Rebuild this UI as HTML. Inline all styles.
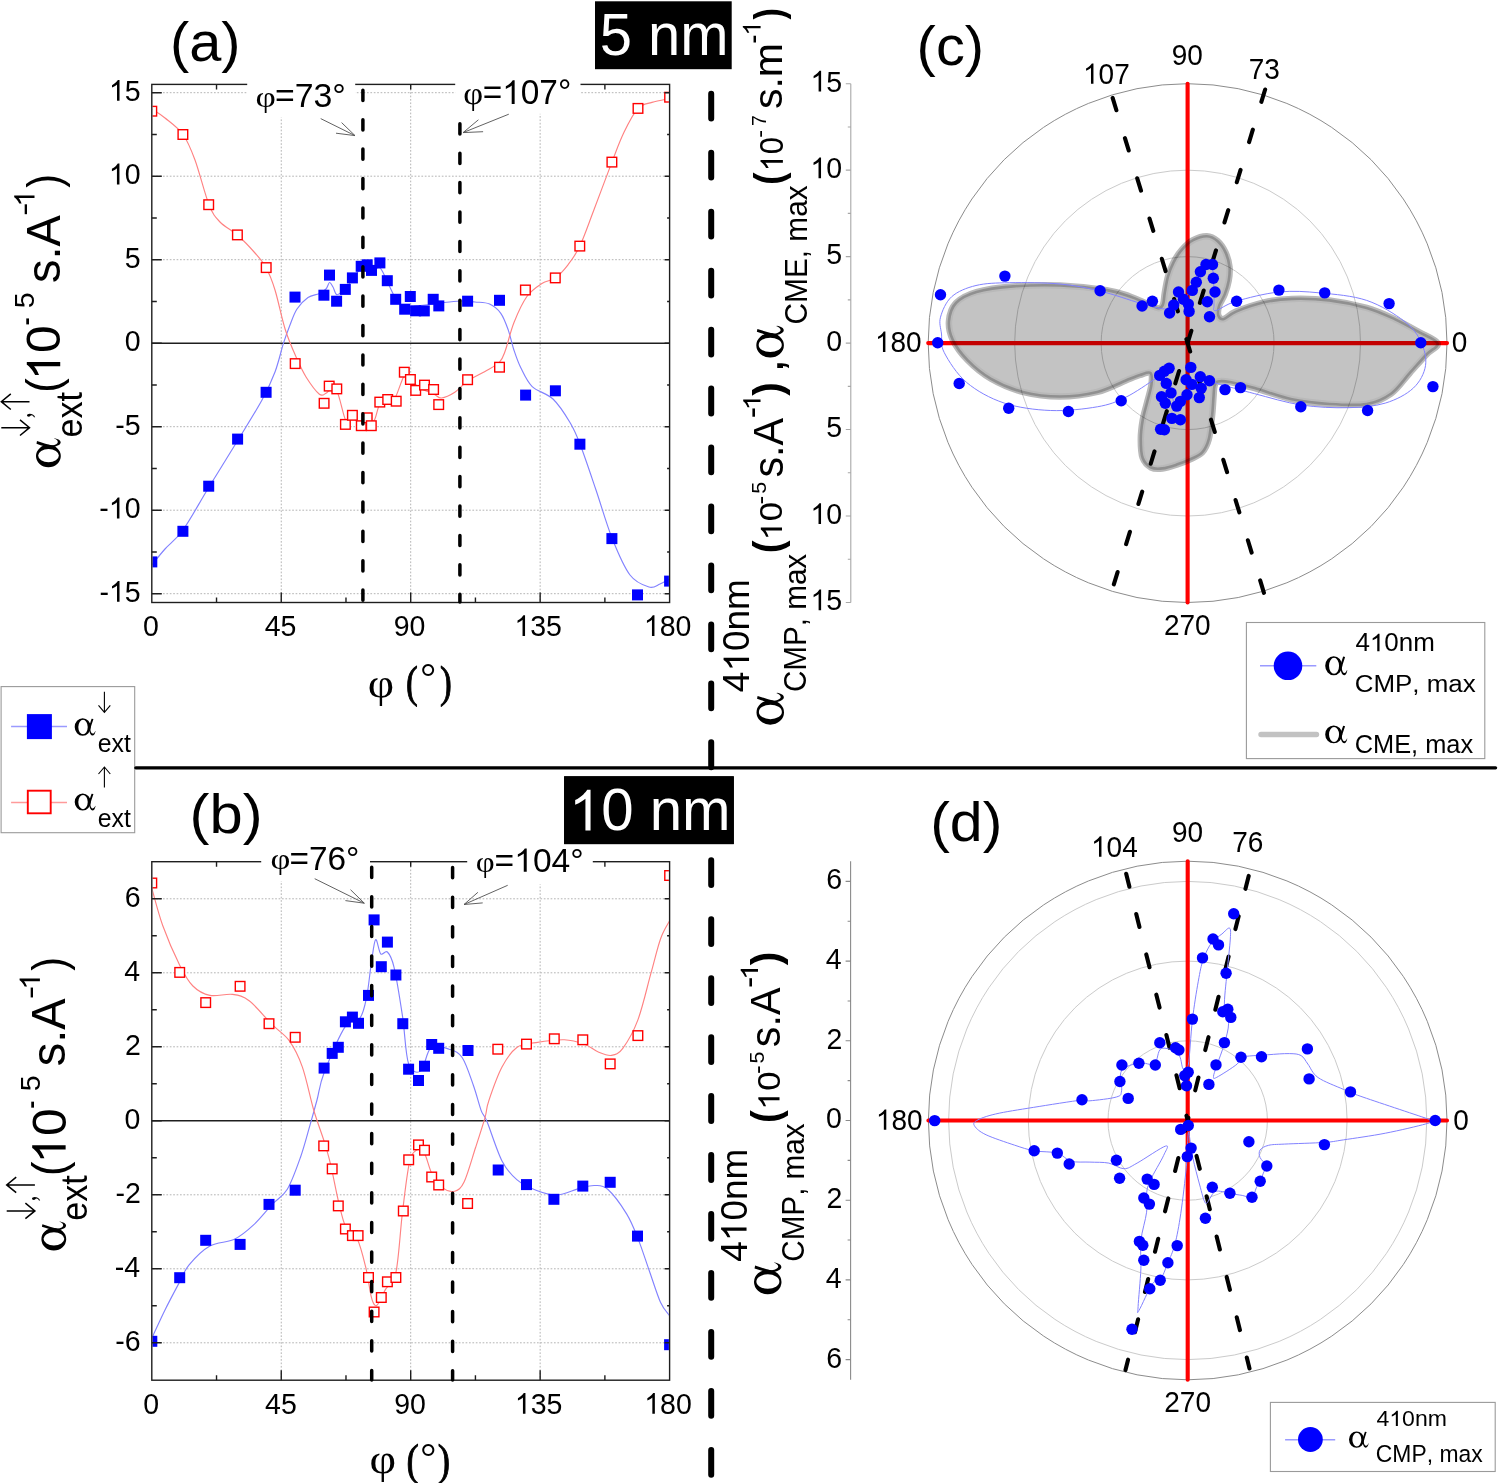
<!DOCTYPE html>
<html><head><meta charset="utf-8"><title>figure</title><style>html,body{margin:0;padding:0;background:#fff;width:1500px;height:1483px;overflow:hidden}svg{display:block}text{font-kerning:none;font-variant-ligatures:none}</style></head><body>
<svg width="1500" height="1483" viewBox="0 0 1500 1483">
<rect width="1500" height="1483" fill="#fff"/>
<clipPath id="clipA"><rect x="152.5" y="85.1" width="516.4" height="516.7"/></clipPath>
<path d="M152.8,92.7H668.6 M152.8,176.2H668.6 M152.8,259.7H668.6 M152.8,426.7H668.6 M152.8,510.2H668.6 M152.8,593.7H668.6 M281.25,85.4V601.5 M410.7,85.4V601.5 M540.15,85.4V601.5" stroke="#b4b4b4" stroke-width="1" stroke-dasharray="1.7 1.7" fill="none"/>
<path d="M151.8,343.2H669.6" stroke="#1e1e1e" stroke-width="1.4" fill="none"/>
<g clip-path="url(#clipA)">
<path d="M151.8,565 C154,562.33 159.8,554.83 165,549 C170.2,543.17 175.67,540.33 183,530 C190.33,519.67 199.83,502 209,487 C218.17,472 229.17,454.5 238,440 C246.83,425.5 255.83,411.33 262,400 C268.17,388.67 271.42,381.47 275,372 C278.58,362.53 281,351.03 283.5,343.2 C286,335.37 287.75,330.7 290,325 C292.25,319.3 294,313.58 297,309 C300,304.42 304.33,300.05 308,297.5 C311.67,294.95 316,295.12 319,293.7 C322,292.28 324.25,290.87 326,289 C327.75,287.13 328.33,282.83 329.5,282.5 C330.67,282.17 331.75,284.97 333,287 C334.25,289.03 335,294.37 337,294.7 C339,295.03 342.5,291.45 345,289 C347.5,286.55 349.33,283.5 352,280 C354.67,276.5 358.5,270.33 361,268 C363.5,265.67 365.17,265.5 367,266 C368.83,266.5 369.83,270.67 372,271 C374.17,271.33 377.5,266.33 380,268 C382.5,269.67 384.33,275.83 387,281 C389.67,286.17 393,294.5 396,299 C399,303.5 401.83,306.83 405,308 C408.17,309.17 411.67,306.5 415,306 C418.33,305.5 420.83,305.5 425,305 C429.17,304.5 434.17,303.67 440,303 C445.83,302.33 454.17,301.17 460,301 C465.83,300.83 470.07,301.5 475,302 C479.93,302.5 485.3,302.12 489.6,304 C493.9,305.88 497.68,308.95 500.8,313.3 C503.92,317.65 506.12,323.98 508.3,330.1 C510.48,336.22 511.82,343.72 513.9,350 C515.98,356.28 517.75,361.7 520.8,367.8 C523.85,373.9 526.83,381.4 532.2,386.6 C537.57,391.8 546.7,393.02 553,399 C559.3,404.98 565.5,415 570,422.5 C574.5,430 575.67,432.75 580,444 C584.33,455.25 590.67,474.33 596,490 C601.33,505.67 606.33,523.83 612,538 C617.67,552.17 623.83,566.83 630,575 C636.17,583.17 644,585.5 649,587 C654,588.5 656.57,585.33 660,584 C663.43,582.67 668,579.83 669.6,579" stroke="#8282ff" stroke-width="1.15" fill="none" stroke-linejoin="round"/>
<path d="M151.8,109 C154,110.5 159.8,113.75 165,118 C170.2,122.25 178,127.5 183,134.5 C188,141.5 190.67,148.3 195,160 C199.33,171.7 204.83,194.37 209,204.7 C213.17,215.03 215.27,216.95 220,222 C224.73,227.05 231.57,229.83 237.4,235 C243.23,240.17 250.23,247.57 255,253 C259.77,258.43 262.67,261.43 266,267.6 C269.33,273.77 271.77,279.6 275,290 C278.23,300.4 281.78,318.62 285.4,330 C289.02,341.38 293.23,350.43 296.7,358.3 C300.17,366.17 302.42,371.22 306.2,377.2 C309.98,383.18 316.1,391.52 319.4,394.2 C322.7,396.88 324.27,393.93 326,393.3 C327.73,392.67 327.92,390.57 329.8,390.4 C331.68,390.23 334.63,387.27 337.3,392.3 C339.97,397.33 343.35,416.32 345.8,420.6 C348.25,424.88 349.47,417.43 352,418 C354.53,418.57 358.5,423.83 361,424 C363.5,424.17 364.82,419.57 367,419 C369.18,418.43 371.82,423.32 374.1,420.6 C376.38,417.88 377.55,405.83 380.7,402.7 C383.85,399.57 389.05,406.37 393,401.8 C396.95,397.23 401.5,379.02 404.4,375.3 C407.3,371.58 407.8,377.38 410.4,379.5 C413,381.62 416.07,385.55 420,388 C423.93,390.45 430.42,392.53 434,394.2 C437.58,395.87 438.03,398.32 441.5,398 C444.97,397.68 450.45,395.13 454.8,392.3 C459.15,389.47 462.57,384.47 467.6,381 C472.63,377.53 479.68,374.65 485,371.5 C490.32,368.35 496.08,365.68 499.5,362.1 C502.92,358.52 503.1,356.57 505.5,350 C507.9,343.43 510.33,331.62 513.9,322.7 C517.47,313.78 522.23,303.03 526.9,296.5 C531.57,289.97 537.17,286.6 541.9,283.5 C546.63,280.4 550.95,281.02 555.3,277.9 C559.65,274.78 563.92,270.1 568,264.8 C572.08,259.5 575.55,255.07 579.8,246.1 C584.05,237.13 588.15,225 593.5,211 C598.85,197 606.82,175.22 611.9,162.1 C616.98,148.98 619.65,141.25 624,132.3 C628.35,123.35 633.33,113.38 638,108.4 C642.67,103.42 646.73,104.05 652,102.4 C657.27,100.75 666.67,99.15 669.6,98.5" stroke="#ff8282" stroke-width="1.15" fill="none" stroke-linejoin="round"/>
<g fill="#0000ff"><rect x="146.3" y="556.4" width="11" height="11"/><rect x="177.4" y="525.8" width="11" height="11"/><rect x="203.2" y="480.7" width="11" height="11"/><rect x="232.1" y="433.6" width="11" height="11"/><rect x="260.6" y="386.8" width="11" height="11"/><rect x="289.5" y="291.6" width="11" height="11"/><rect x="318.4" y="289.7" width="11" height="11"/><rect x="324" y="269.6" width="11" height="11"/><rect x="331.1" y="295.7" width="11" height="11"/><rect x="339.8" y="283.9" width="11" height="11"/><rect x="346.9" y="272.4" width="11" height="11"/><rect x="355.7" y="260.8" width="11" height="11"/><rect x="361.7" y="259.3" width="11" height="11"/><rect x="366" y="264.9" width="11" height="11"/><rect x="374.4" y="257.4" width="11" height="11"/><rect x="381.8" y="275.2" width="11" height="11"/><rect x="390.2" y="293.8" width="11" height="11"/><rect x="399.2" y="303.7" width="11" height="11"/><rect x="404.8" y="291" width="11" height="11"/><rect x="410.1" y="305.3" width="11" height="11"/><rect x="418.8" y="305.4" width="11" height="11"/><rect x="427.7" y="293.8" width="11" height="11"/><rect x="433.3" y="300.4" width="11" height="11"/><rect x="462.1" y="295.7" width="11" height="11"/><rect x="494" y="294.8" width="11" height="11"/><rect x="520.1" y="389.6" width="11" height="11"/><rect x="549.9" y="385.3" width="11" height="11"/><rect x="574.4" y="438.7" width="11" height="11"/><rect x="606.4" y="533.1" width="11" height="11"/><rect x="632" y="589.4" width="11" height="11"/><rect x="664.1" y="575.6" width="11" height="11"/></g>
<g fill="#fff" stroke="#ff0000" stroke-width="1.4"><rect x="147" y="106.4" width="9.6" height="9.6"/><rect x="178.1" y="129.7" width="9.6" height="9.6"/><rect x="203.9" y="199.9" width="9.6" height="9.6"/><rect x="232.6" y="230.1" width="9.6" height="9.6"/><rect x="261.4" y="262.8" width="9.6" height="9.6"/><rect x="290.4" y="358.8" width="9.6" height="9.6"/><rect x="319.3" y="398.5" width="9.6" height="9.6"/><rect x="324.4" y="381.3" width="9.6" height="9.6"/><rect x="332" y="384.1" width="9.6" height="9.6"/><rect x="340.6" y="419.6" width="9.6" height="9.6"/><rect x="347.6" y="410.5" width="9.6" height="9.6"/><rect x="356.5" y="420.9" width="9.6" height="9.6"/><rect x="362.4" y="413" width="9.6" height="9.6"/><rect x="366.5" y="420.9" width="9.6" height="9.6"/><rect x="375" y="397.3" width="9.6" height="9.6"/><rect x="382.9" y="394.7" width="9.6" height="9.6"/><rect x="391.4" y="396.4" width="9.6" height="9.6"/><rect x="399.5" y="367.4" width="9.6" height="9.6"/><rect x="405.6" y="374.7" width="9.6" height="9.6"/><rect x="410.9" y="385.6" width="9.6" height="9.6"/><rect x="419.7" y="380.3" width="9.6" height="9.6"/><rect x="428.8" y="384.7" width="9.6" height="9.6"/><rect x="433.9" y="399.8" width="9.6" height="9.6"/><rect x="462.8" y="374.9" width="9.6" height="9.6"/><rect x="494.7" y="362.4" width="9.6" height="9.6"/><rect x="520.6" y="285.2" width="9.6" height="9.6"/><rect x="550.5" y="273.1" width="9.6" height="9.6"/><rect x="575" y="241.3" width="9.6" height="9.6"/><rect x="607.1" y="157.3" width="9.6" height="9.6"/><rect x="633.2" y="103.6" width="9.6" height="9.6"/><rect x="664.8" y="92.4" width="9.6" height="9.6"/></g>
</g>
<path d="M151.8,92.7h10 M669.6,92.7h-5 M151.8,134.45h5 M669.6,134.45h-2.5 M151.8,176.2h10 M669.6,176.2h-5 M151.8,217.95h5 M669.6,217.95h-2.5 M151.8,259.7h10 M669.6,259.7h-5 M151.8,301.45h5 M669.6,301.45h-2.5 M151.8,343.2h10 M669.6,343.2h-5 M151.8,384.95h5 M669.6,384.95h-2.5 M151.8,426.7h10 M669.6,426.7h-5 M151.8,468.45h5 M669.6,468.45h-2.5 M151.8,510.2h10 M669.6,510.2h-5 M151.8,551.95h5 M669.6,551.95h-2.5 M151.8,593.7h10 M669.6,593.7h-5 M216.53,602.5v-5 M216.53,84.4v5 M281.25,602.5v-10 M281.25,84.4v5 M345.98,602.5v-5 M345.98,84.4v5 M410.7,602.5v-10 M410.7,84.4v5 M475.43,602.5v-5 M475.43,84.4v5 M540.15,602.5v-10 M540.15,84.4v5 M604.88,602.5v-5 M604.88,84.4v5" stroke="#1e1e1e" stroke-width="1.4" fill="none"/>
<rect x="151.8" y="84.4" width="517.8" height="518.1" stroke="#1e1e1e" stroke-width="1.4" fill="none"/>
<rect x="247.2" y="76" width="108" height="41.5" fill="#fff"/>
<rect x="455.2" y="76" width="125.3" height="37.8" fill="#fff"/>
<g transform="matrix(1 0 0 1.0600 108.896 100.745)"><path transform="matrix(0.01392 0 0 -0.01392 0.000 0)" d="M763,0 L583,0 L583,1102.4 C518,1042.8 400,970.7 223,893.8 L223,1057.2 C330,1105.3 430,1172.6 510,1249.5 C570,1307.1 620,1364.8 646,1409 L763,1409 Z" fill="#000"/><text x="15.850" y="0" font-family='"Liberation Sans", sans-serif' font-size="28.5" fill="#000">5</text></g>
<g transform="matrix(1 0 0 1.0600 108.813 184.399)"><path transform="matrix(0.01392 0 0 -0.01392 0.000 0)" d="M763,0 L583,0 L583,1102.4 C518,1042.8 400,970.7 223,893.8 L223,1057.2 C330,1105.3 430,1172.6 510,1249.5 C570,1307.1 620,1364.8 646,1409 L763,1409 Z" fill="#000"/><text x="15.850" y="0" font-family='"Liberation Sans", sans-serif' font-size="28.5" fill="#000">0</text></g>
<g transform="matrix(1 0 0 1.0600 124.746 267.745)"><text x="0" y="0" font-family='"Liberation Sans", sans-serif' font-size="28.5" fill="#000">5</text></g>
<g transform="matrix(1 0 0 1.0600 124.663 351.399)"><text x="0" y="0" font-family='"Liberation Sans", sans-serif' font-size="28.5" fill="#000">0</text></g>
<g transform="matrix(1 0 0 1.0600 115.256 434.745)"><text x="0" y="0" font-family='"Liberation Sans", sans-serif' font-size="28.5" fill="#000">-5</text></g>
<g transform="matrix(1 0 0 1.0600 99.322 518.399)"><text x="0.000" y="0" font-family='"Liberation Sans", sans-serif' font-size="28.5" fill="#000">-</text><path transform="matrix(0.01392 0 0 -0.01392 9.491 0)" d="M763,0 L583,0 L583,1102.4 C518,1042.8 400,970.7 223,893.8 L223,1057.2 C330,1105.3 430,1172.6 510,1249.5 C570,1307.1 620,1364.8 646,1409 L763,1409 Z" fill="#000"/><text x="25.341" y="0" font-family='"Liberation Sans", sans-serif' font-size="28.5" fill="#000">0</text></g>
<g transform="matrix(1 0 0 1.0600 99.405 601.745)"><text x="0.000" y="0" font-family='"Liberation Sans", sans-serif' font-size="28.5" fill="#000">-</text><path transform="matrix(0.01392 0 0 -0.01392 9.491 0)" d="M763,0 L583,0 L583,1102.4 C518,1042.8 400,970.7 223,893.8 L223,1057.2 C330,1105.3 430,1172.6 510,1249.5 C570,1307.1 620,1364.8 646,1409 L763,1409 Z" fill="#000"/><text x="25.341" y="0" font-family='"Liberation Sans", sans-serif' font-size="28.5" fill="#000">5</text></g>
<g transform="matrix(1 0 0 1.0600 142.875 636.099)"><text x="0" y="0" font-family='"Liberation Sans", sans-serif' font-size="28.5" fill="#000">0</text></g>
<g transform="matrix(1 0 0 1.0600 264.673 635.945)"><text x="0" y="0" font-family='"Liberation Sans", sans-serif' font-size="28.5" fill="#000">45</text></g>
<g transform="matrix(1 0 0 1.0600 393.741 636.099)"><text x="0" y="0" font-family='"Liberation Sans", sans-serif' font-size="28.5" fill="#000">90</text></g>
<g transform="matrix(1 0 0 1.0600 514.426 636.099)"><path transform="matrix(0.01392 0 0 -0.01392 0.000 0)" d="M763,0 L583,0 L583,1102.4 C518,1042.8 400,970.7 223,893.8 L223,1057.2 C330,1105.3 430,1172.6 510,1249.5 C570,1307.1 620,1364.8 646,1409 L763,1409 Z" fill="#000"/><text x="15.850" y="0" font-family='"Liberation Sans", sans-serif' font-size="28.5" fill="#000">35</text></g>
<g transform="matrix(1 0 0 1.0600 643.835 636.099)"><path transform="matrix(0.01392 0 0 -0.01392 0.000 0)" d="M763,0 L583,0 L583,1102.4 C518,1042.8 400,970.7 223,893.8 L223,1057.2 C330,1105.3 430,1172.6 510,1249.5 C570,1307.1 620,1364.8 646,1409 L763,1409 Z" fill="#000"/><text x="15.850" y="0" font-family='"Liberation Sans", sans-serif' font-size="28.5" fill="#000">80</text></g>
<g transform="matrix(0.5773 0 0 0.5582 170.02 61.44)"><text x="0" y="0" font-family='"Liberation Sans", sans-serif' font-size="100" fill="#000">(a)</text></g>
<rect x="595" y="1.3" width="136.7" height="67.9" fill="#000"/>
<g transform="matrix(0.5795 0 0 0.5962 599.68 55.42)"><text x="0" y="0" font-family='"Liberation Sans", sans-serif' font-size="100" fill="#fff">5 nm</text></g>
<g transform="matrix(0.3523 0 0 0.2980 255.44 107.46)"><text x="0" y="0" font-family='"Liberation Serif", serif' font-size="100" fill="#000">φ</text></g>
<g transform="matrix(0.3381 0 0 0.3305 274.95 107.28)"><text x="0" y="0" font-family='"Liberation Sans", sans-serif' font-size="100" fill="#000">=73°</text></g>
<g transform="matrix(0.3443 0 0 0.3082 463.17 103.84)"><text x="0" y="0" font-family='"Liberation Serif", serif' font-size="100" fill="#000">φ</text></g>
<g transform="matrix(0.3342 0 0 0.3446 482.67 104.06)"><text x="0.000" y="0" font-family='"Liberation Sans", sans-serif' font-size="100" fill="#000">=</text><path transform="matrix(0.04883 0 0 -0.04883 58.398 0)" d="M763,0 L583,0 L583,1102.4 C518,1042.8 400,970.7 223,893.8 L223,1057.2 C330,1105.3 430,1172.6 510,1249.5 C570,1307.1 620,1364.8 646,1409 L763,1409 Z" fill="#000"/><text x="114.014" y="0" font-family='"Liberation Sans", sans-serif' font-size="100" fill="#000">07°</text></g>
<g transform="matrix(0.4564 0 0 0.4090 367.64 697.49)"><text x="0" y="0" font-family='"Liberation Serif", serif' font-size="100" fill="#000">φ</text></g>
<g transform="matrix(0.3543 0 0 0.4533 405.89 696.50)"><text stroke="#000" stroke-width="2.229" stroke-linejoin="round" x="0" y="0" font-family='"Liberation Serif", serif' font-size="100" fill="#000">(</text></g>
<g transform="matrix(0.3957 0 0 0.3957 420.31 690.92)"><text x="0" y="0" font-family='"Liberation Serif", serif' font-size="100" fill="#000">°</text></g>
<g transform="matrix(0.3543 0 0 0.4533 439.91 696.50)"><text stroke="#000" stroke-width="2.229" stroke-linejoin="round" x="0" y="0" font-family='"Liberation Serif", serif' font-size="100" fill="#000">)</text></g>
<path d="M362.9,90.3V602 M459.9,123.8V602" stroke="#000" stroke-width="3.5" stroke-linecap="round" stroke-dasharray="10.2 19.2" fill="none"/>
<path d="M320.7,118.6L355,135.6M341.6,122.6L355,135.6L336,133.2 M508.8,114.2L463.1,132.6M478.4,119.8L463.1,132.6L483.1,131.7" stroke="#505050" stroke-width="0.9" fill="none"/>
<clipPath id="clipB"><rect x="152.5" y="862.4" width="516.4" height="517.1"/></clipPath>
<path d="M152.8,898.8H668.6 M152.8,972.8H668.6 M152.8,1046.8H668.6 M152.8,1194.8H668.6 M152.8,1268.8H668.6 M152.8,1342.8H668.6 M281.25,862.7V1379.2 M410.7,862.7V1379.2 M540.15,862.7V1379.2" stroke="#b4b4b4" stroke-width="1" stroke-dasharray="1.7 1.7" fill="none"/>
<path d="M151.8,1120.8H669.6" stroke="#1e1e1e" stroke-width="1.4" fill="none"/>
<g clip-path="url(#clipB)">
<path d="M151.7,1338.5 C153.92,1333.75 160.33,1319.45 165,1310 C169.67,1300.55 175.68,1289.33 179.7,1281.8 C183.72,1274.27 184.07,1270.77 189.1,1264.8 C194.13,1258.83 202.35,1250.25 209.9,1246 C217.45,1241.75 227.17,1242.77 234.4,1239.3 C241.63,1235.83 247,1231.02 253.3,1225.2 C259.6,1219.38 266.53,1210.38 272.2,1204.4 C277.87,1198.42 282.58,1197.17 287.3,1189.3 C292.02,1181.43 296.72,1167.9 300.5,1157.2 C304.28,1146.5 307.25,1134.63 310,1125.1 C312.75,1115.57 314.65,1108.72 317,1100 C319.35,1091.28 319.3,1085.2 324.1,1072.8 C328.9,1060.4 339.82,1034.73 345.8,1025.6 C351.78,1016.47 356.53,1022.72 360,1018 C363.47,1013.28 364.72,1006.42 366.6,997.3 C368.48,988.18 369.8,972.9 371.3,963.3 C372.8,953.7 374.03,941.27 375.6,939.7 C377.17,938.13 378.73,951.85 380.7,953.9 C382.67,955.95 385.18,949.8 387.4,952 C389.62,954.2 391.48,956.4 394,967.1 C396.52,977.8 400.08,1000.15 402.5,1016.2 C404.92,1032.25 405.45,1054.28 408.5,1063.4 C411.55,1072.52 417.02,1073.58 420.8,1070.9 C424.58,1068.22 426.48,1050.92 431.2,1047.3 C435.92,1043.68 443.92,1047.47 449.1,1049.2 C454.28,1050.93 458.22,1051.57 462.3,1057.7 C466.38,1063.83 470.45,1077.18 473.6,1086 C476.75,1094.82 478.98,1104.72 481.2,1110.6 C483.42,1116.48 483.43,1112.9 486.9,1121.3 C490.37,1129.7 496.97,1151.23 502,1161 C507.03,1170.77 511.43,1175.03 517.1,1179.9 C522.77,1184.77 529.4,1187.68 536,1190.2 C542.6,1192.72 549.47,1195.3 556.7,1195 C563.93,1194.7 573.1,1189.98 579.4,1188.4 C585.7,1186.82 589.78,1185.35 594.5,1185.5 C599.22,1185.65 602.35,1184.57 607.7,1189.3 C613.05,1194.03 621.57,1205.72 626.6,1213.9 C631.63,1222.08 634.13,1228.97 637.9,1238.4 C641.67,1247.83 645.42,1259.8 649.2,1270.5 C652.98,1281.2 657.2,1295.05 660.6,1302.6 C664,1310.15 668.1,1313.6 669.6,1315.8" stroke="#8282ff" stroke-width="1.15" fill="none" stroke-linejoin="round"/>
<path d="M151.7,887.8 C153.53,894.08 158.03,912.6 162.7,925.5 C167.37,938.4 174.67,955.12 179.7,965.2 C184.73,975.28 187.87,980.97 192.9,986 C197.93,991.03 203.3,994 209.9,995.4 C216.5,996.8 225.9,993.47 232.5,994.4 C239.1,995.33 242.88,995.95 249.5,1001 C256.12,1006.05 265.58,1018.08 272.2,1024.7 C278.82,1031.32 284.17,1033.63 289.2,1040.7 C294.23,1047.77 298.32,1055.55 302.4,1067.1 C306.48,1078.65 310.08,1097.65 313.7,1110 C317.32,1122.35 321.27,1132.07 324.1,1141.2 C326.93,1150.33 328.33,1154.9 330.7,1164.8 C333.07,1174.7 335.78,1190.22 338.3,1200.6 C340.82,1210.98 342.67,1220.8 345.8,1227.1 C348.93,1233.4 353.8,1231.8 357.1,1238.4 C360.4,1245 363.23,1256.95 365.6,1266.7 C367.97,1276.45 369.72,1290.45 371.3,1296.9 C372.88,1303.35 373.83,1304.45 375.1,1305.4 C376.37,1306.35 377.17,1305.27 378.9,1302.6 C380.63,1299.93 382.67,1294.43 385.5,1289.4 C388.33,1284.37 393.07,1285.3 395.9,1272.4 C398.73,1259.5 400.25,1230.25 402.5,1212 C404.75,1193.75 406.98,1173.28 409.4,1162.9 C411.82,1152.52 414.48,1151.28 417,1149.7 C419.52,1148.12 421.98,1149.32 424.5,1153.4 C427.02,1157.48 428.95,1168.37 432.1,1174.2 C435.25,1180.03 439.62,1185.57 443.4,1188.4 C447.18,1191.23 451.33,1192.3 454.8,1191.2 C458.27,1190.1 460.75,1189.03 464.2,1181.8 C467.65,1174.57 472.03,1158.5 475.5,1147.8 C478.97,1137.1 482.8,1125.38 485,1117.6 C487.2,1109.82 485.87,1109.52 488.7,1101.1 C491.53,1092.68 497.27,1076.07 502,1067.1 C506.73,1058.13 511.43,1051.38 517.1,1047.3 C522.77,1043.22 528.13,1043.85 536,1042.6 C543.87,1041.35 556.13,1039.48 564.3,1039.8 C572.47,1040.12 579.33,1042.47 585,1044.5 C590.67,1046.53 593.88,1050.18 598.3,1052 C602.72,1053.82 607.42,1056.02 611.5,1055.4 C615.58,1054.78 618.4,1054.22 622.8,1048.3 C627.2,1042.38 633.18,1032.5 637.9,1019.9 C642.62,1007.3 647.32,986.23 651.1,972.7 C654.88,959.17 657.52,947.35 660.6,938.7 C663.68,930.05 668.1,923.78 669.6,920.8" stroke="#ff8282" stroke-width="1.15" fill="none" stroke-linejoin="round"/>
<g fill="#0000ff"><rect x="146.3" y="1335.8" width="11" height="11"/><rect x="174.2" y="1272.2" width="11" height="11"/><rect x="200.2" y="1234.8" width="11" height="11"/><rect x="234.6" y="1238.9" width="11" height="11"/><rect x="263.5" y="1198.9" width="11" height="11"/><rect x="289.7" y="1184.7" width="11" height="11"/><rect x="318.6" y="1062.6" width="11" height="11"/><rect x="326.7" y="1047.9" width="11" height="11"/><rect x="332.8" y="1041.8" width="11" height="11"/><rect x="339.9" y="1016.3" width="11" height="11"/><rect x="346.9" y="1011.6" width="11" height="11"/><rect x="353" y="1017.8" width="11" height="11"/><rect x="363" y="989.9" width="11" height="11"/><rect x="368.6" y="914.4" width="11" height="11"/><rect x="375.8" y="961.2" width="11" height="11"/><rect x="381.9" y="936.6" width="11" height="11"/><rect x="390.4" y="969.5" width="11" height="11"/><rect x="397.3" y="1018.2" width="11" height="11"/><rect x="403.1" y="1063.7" width="11" height="11"/><rect x="413" y="1075" width="11" height="11"/><rect x="419" y="1060.7" width="11" height="11"/><rect x="426.2" y="1039" width="11" height="11"/><rect x="433.2" y="1042.8" width="11" height="11"/><rect x="462.5" y="1045" width="11" height="11"/><rect x="492.7" y="1164.5" width="11" height="11"/><rect x="521" y="1179.1" width="11" height="11"/><rect x="548.4" y="1193.8" width="11" height="11"/><rect x="577.3" y="1180.6" width="11" height="11"/><rect x="604.7" y="1176.8" width="11" height="11"/><rect x="632" y="1230.6" width="11" height="11"/><rect x="664.1" y="1339.2" width="11" height="11"/></g>
<g fill="#fff" stroke="#ff0000" stroke-width="1.4"><rect x="147" y="878.2" width="9.6" height="9.6"/><rect x="174.9" y="967.6" width="9.6" height="9.6"/><rect x="200.9" y="997.8" width="9.6" height="9.6"/><rect x="235.3" y="981.5" width="9.6" height="9.6"/><rect x="264.2" y="1018.9" width="9.6" height="9.6"/><rect x="290.4" y="1032.5" width="9.6" height="9.6"/><rect x="318.9" y="1141.1" width="9.6" height="9.6"/><rect x="327.4" y="1164.1" width="9.6" height="9.6"/><rect x="333.5" y="1201.1" width="9.6" height="9.6"/><rect x="340.6" y="1224.2" width="9.6" height="9.6"/><rect x="347.6" y="1230.8" width="9.6" height="9.6"/><rect x="353.3" y="1230.8" width="9.6" height="9.6"/><rect x="363.7" y="1272.7" width="9.6" height="9.6"/><rect x="369.3" y="1307.2" width="9.6" height="9.6"/><rect x="376.5" y="1292.7" width="9.6" height="9.6"/><rect x="382.6" y="1277" width="9.6" height="9.6"/><rect x="391.1" y="1272.7" width="9.6" height="9.6"/><rect x="398.5" y="1206.2" width="9.6" height="9.6"/><rect x="403.9" y="1155" width="9.6" height="9.6"/><rect x="413.7" y="1140.1" width="9.6" height="9.6"/><rect x="419.7" y="1145.4" width="9.6" height="9.6"/><rect x="426.9" y="1172.2" width="9.6" height="9.6"/><rect x="433.9" y="1180.2" width="9.6" height="9.6"/><rect x="462.8" y="1198.7" width="9.6" height="9.6"/><rect x="493" y="1044.4" width="9.6" height="9.6"/><rect x="521.7" y="1039.3" width="9.6" height="9.6"/><rect x="549.5" y="1034" width="9.6" height="9.6"/><rect x="578" y="1035" width="9.6" height="9.6"/><rect x="605.4" y="1059.1" width="9.6" height="9.6"/><rect x="633.1" y="1030.8" width="9.6" height="9.6"/><rect x="664.8" y="870.7" width="9.6" height="9.6"/></g>
</g>
<path d="M151.8,898.8h10 M669.6,898.8h-5 M151.8,935.8h5 M669.6,935.8h-2.5 M151.8,972.8h10 M669.6,972.8h-5 M151.8,1009.8h5 M669.6,1009.8h-2.5 M151.8,1046.8h10 M669.6,1046.8h-5 M151.8,1083.8h5 M669.6,1083.8h-2.5 M151.8,1120.8h10 M669.6,1120.8h-5 M151.8,1157.8h5 M669.6,1157.8h-2.5 M151.8,1194.8h10 M669.6,1194.8h-5 M151.8,1231.8h5 M669.6,1231.8h-2.5 M151.8,1268.8h10 M669.6,1268.8h-5 M151.8,1305.8h5 M669.6,1305.8h-2.5 M151.8,1342.8h10 M669.6,1342.8h-5 M216.53,1380.2v-5 M216.53,861.7v5 M281.25,1380.2v-10 M281.25,861.7v5 M345.98,1380.2v-5 M345.98,861.7v5 M410.7,1380.2v-10 M410.7,861.7v5 M475.43,1380.2v-5 M475.43,861.7v5 M540.15,1380.2v-10 M540.15,861.7v5 M604.88,1380.2v-5 M604.88,861.7v5" stroke="#1e1e1e" stroke-width="1.4" fill="none"/>
<rect x="151.8" y="861.7" width="517.8" height="518.5" stroke="#1e1e1e" stroke-width="1.4" fill="none"/>
<rect x="261.2" y="852" width="108.8" height="29" fill="#fff"/>
<rect x="467.2" y="852" width="125.6" height="32.3" fill="#fff"/>
<g transform="matrix(1 0 0 1.0600 124.702 906.999)"><text x="0" y="0" font-family='"Liberation Sans", sans-serif' font-size="28.5" fill="#000">6</text></g>
<g transform="matrix(1 0 0 1.0600 124.285 980.992)"><text x="0" y="0" font-family='"Liberation Sans", sans-serif' font-size="28.5" fill="#000">4</text></g>
<g transform="matrix(1 0 0 1.0600 124.883 1055.147)"><text x="0" y="0" font-family='"Liberation Sans", sans-serif' font-size="28.5" fill="#000">2</text></g>
<g transform="matrix(1 0 0 1.0600 124.563 1128.999)"><text x="0" y="0" font-family='"Liberation Sans", sans-serif' font-size="28.5" fill="#000">0</text></g>
<g transform="matrix(1 0 0 1.0600 115.392 1203.147)"><text x="0" y="0" font-family='"Liberation Sans", sans-serif' font-size="28.5" fill="#000">-2</text></g>
<g transform="matrix(1 0 0 1.0600 114.794 1276.992)"><text x="0" y="0" font-family='"Liberation Sans", sans-serif' font-size="28.5" fill="#000">-4</text></g>
<g transform="matrix(1 0 0 1.0600 115.211 1350.999)"><text x="0" y="0" font-family='"Liberation Sans", sans-serif' font-size="28.5" fill="#000">-6</text></g>
<g transform="matrix(1 0 0 1.0600 143.275 1413.799)"><text x="0" y="0" font-family='"Liberation Sans", sans-serif' font-size="28.5" fill="#000">0</text></g>
<g transform="matrix(1 0 0 1.0600 265.073 1413.645)"><text x="0" y="0" font-family='"Liberation Sans", sans-serif' font-size="28.5" fill="#000">45</text></g>
<g transform="matrix(1 0 0 1.0600 394.141 1413.799)"><text x="0" y="0" font-family='"Liberation Sans", sans-serif' font-size="28.5" fill="#000">90</text></g>
<g transform="matrix(1 0 0 1.0600 514.826 1413.799)"><path transform="matrix(0.01392 0 0 -0.01392 0.000 0)" d="M763,0 L583,0 L583,1102.4 C518,1042.8 400,970.7 223,893.8 L223,1057.2 C330,1105.3 430,1172.6 510,1249.5 C570,1307.1 620,1364.8 646,1409 L763,1409 Z" fill="#000"/><text x="15.850" y="0" font-family='"Liberation Sans", sans-serif' font-size="28.5" fill="#000">35</text></g>
<g transform="matrix(1 0 0 1.0600 644.235 1413.799)"><path transform="matrix(0.01392 0 0 -0.01392 0.000 0)" d="M763,0 L583,0 L583,1102.4 C518,1042.8 400,970.7 223,893.8 L223,1057.2 C330,1105.3 430,1172.6 510,1249.5 C570,1307.1 620,1364.8 646,1409 L763,1409 Z" fill="#000"/><text x="15.850" y="0" font-family='"Liberation Sans", sans-serif' font-size="28.5" fill="#000">80</text></g>
<g transform="matrix(0.5974 0 0 0.5571 189.60 832.97)"><text x="0" y="0" font-family='"Liberation Sans", sans-serif' font-size="100" fill="#000">(b)</text></g>
<rect x="564.1" y="776.3" width="169.7" height="67.8" fill="#000"/>
<g transform="matrix(0.5821 0 0 0.5904 568.86 830.42)"><path transform="matrix(0.04883 0 0 -0.04883 0.000 0)" d="M763,0 L583,0 L583,1102.4 C518,1042.8 400,970.7 223,893.8 L223,1057.2 C330,1105.3 430,1172.6 510,1249.5 C570,1307.1 620,1364.8 646,1409 L763,1409 Z" fill="#000"/><text x="55.615" y="0" font-family='"Liberation Sans", sans-serif' font-size="100" fill="#000">0 nm</text></g>
<g transform="matrix(0.3443 0 0 0.3024 270.57 869.36)"><text x="0" y="0" font-family='"Liberation Serif", serif' font-size="100" fill="#000">φ</text></g>
<g transform="matrix(0.3341 0 0 0.3333 289.47 869.57)"><text x="0" y="0" font-family='"Liberation Sans", sans-serif' font-size="100" fill="#000">=76°</text></g>
<g transform="matrix(0.3283 0 0 0.2995 475.63 871.92)"><text x="0" y="0" font-family='"Liberation Serif", serif' font-size="100" fill="#000">φ</text></g>
<g transform="matrix(0.3362 0 0 0.3362 494.56 871.67)"><text x="0.000" y="0" font-family='"Liberation Sans", sans-serif' font-size="100" fill="#000">=</text><path transform="matrix(0.04883 0 0 -0.04883 58.398 0)" d="M763,0 L583,0 L583,1102.4 C518,1042.8 400,970.7 223,893.8 L223,1057.2 C330,1105.3 430,1172.6 510,1249.5 C570,1307.1 620,1364.8 646,1409 L763,1409 Z" fill="#000"/><text x="114.014" y="0" font-family='"Liberation Sans", sans-serif' font-size="100" fill="#000">04°</text></g>
<g transform="matrix(0.4604 0 0 0.4149 369.52 1472.57)"><text x="0" y="0" font-family='"Liberation Serif", serif' font-size="100" fill="#000">φ</text></g>
<g transform="matrix(0.3699 0 0 0.4533 406.62 1475.30)"><text stroke="#000" stroke-width="2.187" stroke-linejoin="round" x="0" y="0" font-family='"Liberation Serif", serif' font-size="100" fill="#000">(</text></g>
<g transform="matrix(0.4023 0 0 0.3990 420.37 1470.74)"><text x="0" y="0" font-family='"Liberation Serif", serif' font-size="100" fill="#000">°</text></g>
<g transform="matrix(0.3699 0 0 0.4533 437.86 1475.30)"><text stroke="#000" stroke-width="2.187" stroke-linejoin="round" x="0" y="0" font-family='"Liberation Serif", serif' font-size="100" fill="#000">)</text></g>
<path d="M371.7,867.2V1380 M452.6,867.6V1380" stroke="#000" stroke-width="3.5" stroke-linecap="round" stroke-dasharray="10.2 19.4" fill="none"/>
<path d="M314.7,878.7L364.3,903.2M350.5,889.7L364.3,903.2L345.4,900.6 M507.7,885.3L464,904.5M477.9,892.3L464,904.5L482.7,902.9" stroke="#505050" stroke-width="0.9" fill="none"/>
<circle cx="1187.6" cy="343.1" r="86.47" fill="none" stroke="#cbcbcb" stroke-width="1"/>
<circle cx="1187.6" cy="343.1" r="172.93" fill="none" stroke="#cbcbcb" stroke-width="1"/>
<circle cx="1187.6" cy="343.1" r="259.4" fill="none" stroke="#8c8c8c" stroke-width="1"/>
<path d="M928.2,343.1H1447 M1187.6,83.7V602.5" stroke="#ff0000" stroke-width="4.1" stroke-linecap="round" fill="none"/>
<path d="M850.8,83.7V602.5 M850.8,343.1h-5 M850.8,299.87h-3 M850.8,386.33h-3 M850.8,256.63h-5 M850.8,429.57h-5 M850.8,213.4h-3 M850.8,472.8h-3 M850.8,170.17h-5 M850.8,516.03h-5 M850.8,126.93h-3 M850.8,559.27h-3 M850.8,83.7h-5 M850.8,602.5h-5" stroke="#a8a8a8" stroke-width="1.1" fill="none"/>
<g transform="matrix(1 0 0 1.0600 810.496 91.545)"><path transform="matrix(0.01392 0 0 -0.01392 0.000 0)" d="M763,0 L583,0 L583,1102.4 C518,1042.8 400,970.7 223,893.8 L223,1057.2 C330,1105.3 430,1172.6 510,1249.5 C570,1307.1 620,1364.8 646,1409 L763,1409 Z" fill="#000"/><text x="15.850" y="0" font-family='"Liberation Sans", sans-serif' font-size="28.5" fill="#000">5</text></g>
<g transform="matrix(1 0 0 1.0600 810.413 178.166)"><path transform="matrix(0.01392 0 0 -0.01392 0.000 0)" d="M763,0 L583,0 L583,1102.4 C518,1042.8 400,970.7 223,893.8 L223,1057.2 C330,1105.3 430,1172.6 510,1249.5 C570,1307.1 620,1364.8 646,1409 L763,1409 Z" fill="#000"/><text x="15.850" y="0" font-family='"Liberation Sans", sans-serif' font-size="28.5" fill="#000">0</text></g>
<g transform="matrix(1 0 0 1.0600 826.346 264.478)"><text x="0" y="0" font-family='"Liberation Sans", sans-serif' font-size="28.5" fill="#000">5</text></g>
<g transform="matrix(1 0 0 1.0600 826.263 351.099)"><text x="0" y="0" font-family='"Liberation Sans", sans-serif' font-size="28.5" fill="#000">0</text></g>
<g transform="matrix(1 0 0 1.0600 826.346 437.411)"><text x="0" y="0" font-family='"Liberation Sans", sans-serif' font-size="28.5" fill="#000">5</text></g>
<g transform="matrix(1 0 0 1.0600 810.413 524.033)"><path transform="matrix(0.01392 0 0 -0.01392 0.000 0)" d="M763,0 L583,0 L583,1102.4 C518,1042.8 400,970.7 223,893.8 L223,1057.2 C330,1105.3 430,1172.6 510,1249.5 C570,1307.1 620,1364.8 646,1409 L763,1409 Z" fill="#000"/><text x="15.850" y="0" font-family='"Liberation Sans", sans-serif' font-size="28.5" fill="#000">0</text></g>
<g transform="matrix(1 0 0 1.0600 810.496 610.345)"><path transform="matrix(0.01392 0 0 -0.01392 0.000 0)" d="M763,0 L583,0 L583,1102.4 C518,1042.8 400,970.7 223,893.8 L223,1057.2 C330,1105.3 430,1172.6 510,1249.5 C570,1307.1 620,1364.8 646,1409 L763,1409 Z" fill="#000"/><text x="15.850" y="0" font-family='"Liberation Sans", sans-serif' font-size="28.5" fill="#000">5</text></g>
<g style="mix-blend-mode:multiply">
<path d="M1437.6,343.3 C1436.37,339.57 1426.15,336.13 1419,332.1 C1411.85,328.07 1403.42,323.13 1394.7,319.1 C1385.98,315.07 1377.6,311.02 1366.7,307.9 C1355.8,304.78 1341.75,301.9 1329.3,300.4 C1316.85,298.9 1302.88,298.58 1292,298.9 C1281.12,299.22 1273.33,300.18 1264,302.3 C1254.67,304.42 1242.67,308.82 1236,311.6 C1229.33,314.38 1226.92,318.27 1224,319 C1221.08,319.73 1219.33,318.17 1218.5,316 C1217.67,313.83 1217.97,309.6 1219,306 C1220.03,302.4 1223.08,298.62 1224.7,294.4 C1226.32,290.18 1227.9,285.28 1228.7,280.7 C1229.5,276.12 1230.03,271.62 1229.5,266.9 C1228.97,262.18 1227.52,256.72 1225.5,252.4 C1223.48,248.08 1220.5,243.7 1217.4,241 C1214.3,238.3 1210.95,236.33 1206.9,236.2 C1202.85,236.07 1197.28,237.92 1193.1,240.2 C1188.92,242.48 1185.03,246.25 1181.8,249.9 C1178.57,253.55 1176,257.65 1173.7,262.1 C1171.4,266.55 1169.48,271.48 1168,276.6 C1166.52,281.72 1165.63,288.15 1164.8,292.8 C1163.97,297.45 1164.08,301.93 1163,304.5 C1161.92,307.07 1161.1,308.4 1158.3,308.2 C1155.5,308 1150.92,305.25 1146.2,303.3 C1141.48,301.35 1136.58,298.7 1130,296.5 C1123.42,294.3 1118.37,291.93 1106.7,290.1 C1095.03,288.27 1075.57,286.12 1060,285.5 C1044.43,284.88 1027.22,285.32 1013.3,286.4 C999.38,287.48 986.05,289.23 976.5,292 C966.95,294.77 960.58,298.17 956,303 C951.42,307.83 949.55,314.9 949,321 C948.45,327.1 949.62,333.08 952.7,339.6 C955.78,346.12 961.12,353.57 967.5,360.1 C973.88,366.63 981.8,373.5 991,378.8 C1000.2,384.1 1011.2,388.95 1022.7,391.9 C1034.2,394.85 1047.57,396.5 1060,396.5 C1072.43,396.5 1086.42,394.53 1097.3,391.9 C1108.18,389.27 1118.18,383.52 1125.3,380.7 C1132.42,377.88 1135.8,376.28 1140,375 C1144.2,373.72 1148.58,371.43 1150.5,373 C1152.42,374.57 1152.02,379.67 1151.5,384.4 C1150.98,389.13 1148.87,395.42 1147.4,401.4 C1145.93,407.38 1143.8,414 1142.7,420.3 C1141.6,426.6 1140.8,432.92 1140.8,439.2 C1140.8,445.48 1140.97,453.28 1142.7,458 C1144.43,462.72 1147.9,465.77 1151.2,467.5 C1154.5,469.23 1158.25,468.88 1162.5,468.4 C1166.75,467.92 1171.98,466.17 1176.7,464.6 C1181.42,463.03 1186.55,461.03 1190.8,459 C1195.05,456.97 1199.2,455.7 1202.2,452.4 C1205.2,449.1 1207.15,445.35 1208.8,439.2 C1210.45,433.05 1211.32,422.58 1212.1,415.5 C1212.88,408.42 1213.1,401.62 1213.5,396.7 C1213.9,391.78 1213.75,388.53 1214.5,386 C1215.25,383.47 1215.42,382.17 1218,381.5 C1220.58,380.83 1223.88,380.9 1230,382 C1236.12,383.1 1244.37,385.22 1254.7,388.1 C1265.03,390.98 1279.57,396.65 1292,399.3 C1304.43,401.95 1316.85,403.22 1329.3,404 C1341.75,404.78 1356.42,405.72 1366.7,404 C1376.98,402.28 1383.85,398.83 1391,393.7 C1398.15,388.57 1403.7,379.73 1409.6,373.2 C1415.5,366.67 1421.73,359.48 1426.4,354.5 C1431.07,349.52 1438.83,347.03 1437.6,343.3Z" fill="#c3c3c3" stroke="#b9b9b9" stroke-width="6.5" stroke-linejoin="round"/>
<path d="M1437.6,343.3 C1436.37,339.57 1426.15,336.13 1419,332.1 C1411.85,328.07 1403.42,323.13 1394.7,319.1 C1385.98,315.07 1377.6,311.02 1366.7,307.9 C1355.8,304.78 1341.75,301.9 1329.3,300.4 C1316.85,298.9 1302.88,298.58 1292,298.9 C1281.12,299.22 1273.33,300.18 1264,302.3 C1254.67,304.42 1242.67,308.82 1236,311.6 C1229.33,314.38 1226.92,318.27 1224,319 C1221.08,319.73 1219.33,318.17 1218.5,316 C1217.67,313.83 1217.97,309.6 1219,306 C1220.03,302.4 1223.08,298.62 1224.7,294.4 C1226.32,290.18 1227.9,285.28 1228.7,280.7 C1229.5,276.12 1230.03,271.62 1229.5,266.9 C1228.97,262.18 1227.52,256.72 1225.5,252.4 C1223.48,248.08 1220.5,243.7 1217.4,241 C1214.3,238.3 1210.95,236.33 1206.9,236.2 C1202.85,236.07 1197.28,237.92 1193.1,240.2 C1188.92,242.48 1185.03,246.25 1181.8,249.9 C1178.57,253.55 1176,257.65 1173.7,262.1 C1171.4,266.55 1169.48,271.48 1168,276.6 C1166.52,281.72 1165.63,288.15 1164.8,292.8 C1163.97,297.45 1164.08,301.93 1163,304.5 C1161.92,307.07 1161.1,308.4 1158.3,308.2 C1155.5,308 1150.92,305.25 1146.2,303.3 C1141.48,301.35 1136.58,298.7 1130,296.5 C1123.42,294.3 1118.37,291.93 1106.7,290.1 C1095.03,288.27 1075.57,286.12 1060,285.5 C1044.43,284.88 1027.22,285.32 1013.3,286.4 C999.38,287.48 986.05,289.23 976.5,292 C966.95,294.77 960.58,298.17 956,303 C951.42,307.83 949.55,314.9 949,321 C948.45,327.1 949.62,333.08 952.7,339.6 C955.78,346.12 961.12,353.57 967.5,360.1 C973.88,366.63 981.8,373.5 991,378.8 C1000.2,384.1 1011.2,388.95 1022.7,391.9 C1034.2,394.85 1047.57,396.5 1060,396.5 C1072.43,396.5 1086.42,394.53 1097.3,391.9 C1108.18,389.27 1118.18,383.52 1125.3,380.7 C1132.42,377.88 1135.8,376.28 1140,375 C1144.2,373.72 1148.58,371.43 1150.5,373 C1152.42,374.57 1152.02,379.67 1151.5,384.4 C1150.98,389.13 1148.87,395.42 1147.4,401.4 C1145.93,407.38 1143.8,414 1142.7,420.3 C1141.6,426.6 1140.8,432.92 1140.8,439.2 C1140.8,445.48 1140.97,453.28 1142.7,458 C1144.43,462.72 1147.9,465.77 1151.2,467.5 C1154.5,469.23 1158.25,468.88 1162.5,468.4 C1166.75,467.92 1171.98,466.17 1176.7,464.6 C1181.42,463.03 1186.55,461.03 1190.8,459 C1195.05,456.97 1199.2,455.7 1202.2,452.4 C1205.2,449.1 1207.15,445.35 1208.8,439.2 C1210.45,433.05 1211.32,422.58 1212.1,415.5 C1212.88,408.42 1213.1,401.62 1213.5,396.7 C1213.9,391.78 1213.75,388.53 1214.5,386 C1215.25,383.47 1215.42,382.17 1218,381.5 C1220.58,380.83 1223.88,380.9 1230,382 C1236.12,383.1 1244.37,385.22 1254.7,388.1 C1265.03,390.98 1279.57,396.65 1292,399.3 C1304.43,401.95 1316.85,403.22 1329.3,404 C1341.75,404.78 1356.42,405.72 1366.7,404 C1376.98,402.28 1383.85,398.83 1391,393.7 C1398.15,388.57 1403.7,379.73 1409.6,373.2 C1415.5,366.67 1421.73,359.48 1426.4,354.5 C1431.07,349.52 1438.83,347.03 1437.6,343.3Z" fill="none" stroke="#909090" stroke-width="2.6" stroke-linejoin="round"/>
</g>
<path d="M1265.14,89.49L1113.28,586.19" stroke="#000" stroke-width="4.1" stroke-linecap="round" stroke-dasharray="12.9 29.15" fill="none"/>
<path d="M1112.64,97.9L1264.38,594.23" stroke="#000" stroke-width="4.1" stroke-linecap="round" stroke-dasharray="12.9 29.15" fill="none"/>
<path d="M1164.8,309 C1159.55,308.72 1151.3,306.3 1140.5,303.3 C1129.7,300.3 1113.42,294.22 1100,291 C1086.58,287.78 1075.07,285.38 1060,284 C1044.93,282.62 1023.6,282.45 1009.6,282.7 C995.6,282.95 985.65,283.17 976,285.5 C966.35,287.83 957.62,291.42 951.7,296.7 C945.78,301.98 942.2,310.98 940.5,317.2 C938.8,323.42 940.87,328.08 941.5,334 C942.13,339.92 940.1,344.62 944.3,352.7 C948.5,360.78 956.75,374.12 966.7,382.5 C976.65,390.88 990,398.33 1004,403 C1018,407.67 1035.15,409.87 1050.7,410.5 C1066.25,411.13 1084.87,408.97 1097.3,406.8 C1109.73,404.63 1115.65,402.17 1125.3,397.5 C1134.95,392.83 1148.68,383.18 1155.2,378.8 C1161.72,374.42 1161.77,368.85 1164.4,371.2 C1167.03,373.55 1168.95,387.08 1171,392.9 C1173.05,398.72 1174.03,405.78 1176.7,406.1 C1179.37,406.42 1184.48,398.42 1187,394.8 C1189.52,391.18 1189.58,387.4 1191.8,384.4 C1194.02,381.4 1197.47,377.43 1200.3,376.8 C1203.13,376.17 1205.97,379.48 1208.8,380.6 C1211.63,381.72 1209.65,381.32 1217.3,383.5 C1224.95,385.68 1240.7,390.12 1254.7,393.7 C1268.7,397.28 1285.75,402.67 1301.3,405 C1316.85,407.33 1334,408.02 1348,407.7 C1362,407.38 1374.42,406.37 1385.3,403.1 C1396.18,399.83 1406.6,394.33 1413.3,388.1 C1420,381.87 1424.25,373.47 1425.5,365.7 C1426.75,357.93 1424.38,348.95 1420.8,341.5 C1417.22,334.05 1413.02,327.85 1404,321 C1394.98,314.15 1380.7,305.08 1366.7,300.4 C1352.7,295.72 1334.62,294.3 1320,292.9 C1305.38,291.5 1293,290.6 1279,292 C1265,293.4 1246.53,298.2 1236,301.3 C1225.47,304.4 1219.47,309.98 1215.8,310.6 C1212.13,311.22 1214.3,308.1 1214,305 C1213.7,301.9 1214.33,298.5 1214,292 C1213.67,285.5 1213.67,270.33 1212,266 C1210.33,261.67 1207,262.83 1204,266 C1201,269.17 1197.17,279.67 1194,285 C1190.83,290.33 1188.67,294.67 1185,298 C1181.33,301.33 1175.37,303.17 1172,305 C1168.63,306.83 1170.05,309.28 1164.8,309Z" stroke="#8282ff" stroke-width="1" fill="none" stroke-linejoin="round"/>
<g fill="#0000ff"><circle cx="1004.9" cy="276.1" r="5.7"/><circle cx="940.5" cy="294.8" r="5.7"/><circle cx="1100.1" cy="290.7" r="5.7"/><circle cx="1142.1" cy="306" r="5.7"/><circle cx="1152.4" cy="301.3" r="5.7"/><circle cx="937.7" cy="342.8" r="5.7"/><circle cx="959.2" cy="383.5" r="5.7"/><circle cx="1008.7" cy="408.3" r="5.7"/><circle cx="1068.4" cy="411.5" r="5.7"/><circle cx="1121.2" cy="400.8" r="5.7"/><circle cx="1236.6" cy="301.3" r="5.7"/><circle cx="1278.9" cy="290.1" r="5.7"/><circle cx="1324.7" cy="292.9" r="5.7"/><circle cx="1389.1" cy="303.6" r="5.7"/><circle cx="1420.8" cy="342.8" r="5.7"/><circle cx="1432.9" cy="386.6" r="5.7"/><circle cx="1367.6" cy="410.5" r="5.7"/><circle cx="1300.8" cy="406.8" r="5.7"/><circle cx="1240.5" cy="387.6" r="5.7"/><circle cx="1225" cy="389.6" r="5.7"/><circle cx="1209.5" cy="380.7" r="5.7"/><circle cx="1209.5" cy="316.8" r="5.7"/><circle cx="1169.6" cy="313" r="5.7"/><circle cx="1173.7" cy="305" r="5.7"/><circle cx="1178.5" cy="292" r="5.7"/><circle cx="1183.4" cy="299.3" r="5.7"/><circle cx="1188.3" cy="304.1" r="5.7"/><circle cx="1189.1" cy="311.4" r="5.7"/><circle cx="1192.3" cy="290.4" r="5.7"/><circle cx="1196.3" cy="282.3" r="5.7"/><circle cx="1200.4" cy="271.8" r="5.7"/><circle cx="1206" cy="264.5" r="5.7"/><circle cx="1212.5" cy="264.5" r="5.7"/><circle cx="1213.3" cy="278.3" r="5.7"/><circle cx="1215" cy="292" r="5.7"/><circle cx="1207.3" cy="301.7" r="5.7"/><circle cx="1159.7" cy="375.4" r="5.7"/><circle cx="1164.4" cy="371.2" r="5.7"/><circle cx="1169.1" cy="368.3" r="5.7"/><circle cx="1166.3" cy="383.4" r="5.7"/><circle cx="1171" cy="392.9" r="5.7"/><circle cx="1161.5" cy="396.7" r="5.7"/><circle cx="1165.3" cy="403.3" r="5.7"/><circle cx="1176.7" cy="406.1" r="5.7"/><circle cx="1180.4" cy="401.4" r="5.7"/><circle cx="1187" cy="394.8" r="5.7"/><circle cx="1186.1" cy="379.7" r="5.7"/><circle cx="1190.8" cy="367.4" r="5.7"/><circle cx="1191.8" cy="384.4" r="5.7"/><circle cx="1200.3" cy="376.8" r="5.7"/><circle cx="1199.3" cy="397.6" r="5.7"/><circle cx="1201.2" cy="388.2" r="5.7"/><circle cx="1171.9" cy="418.4" r="5.7"/><circle cx="1180.4" cy="419.8" r="5.7"/><circle cx="1160.6" cy="429.2" r="5.7"/><circle cx="1164.4" cy="429.7" r="5.7"/></g>
<g transform="matrix(1 0 0 1.0600 1171.718 64.517)"><text x="0" y="0" font-family='"Liberation Sans", sans-serif' font-size="28" fill="#000">90</text></g>
<g transform="matrix(1 0 0 1.0600 1083.021 83.817)"><path transform="matrix(0.01367 0 0 -0.01367 0.000 0)" d="M763,0 L583,0 L583,1102.4 C518,1042.8 400,970.7 223,893.8 L223,1057.2 C330,1105.3 430,1172.6 510,1249.5 C570,1307.1 620,1364.8 646,1409 L763,1409 Z" fill="#000"/><text x="15.572" y="0" font-family='"Liberation Sans", sans-serif' font-size="28" fill="#000">07</text></g>
<g transform="matrix(1 0 0 1.0600 1248.725 79.417)"><text x="0" y="0" font-family='"Liberation Sans", sans-serif' font-size="28" fill="#000">73</text></g>
<g transform="matrix(1 0 0 1.0600 874.964 352.017)"><path transform="matrix(0.01367 0 0 -0.01367 0.000 0)" d="M763,0 L583,0 L583,1102.4 C518,1042.8 400,970.7 223,893.8 L223,1057.2 C330,1105.3 430,1172.6 510,1249.5 C570,1307.1 620,1364.8 646,1409 L763,1409 Z" fill="#000"/><text x="15.572" y="0" font-family='"Liberation Sans", sans-serif' font-size="28" fill="#000">80</text></g>
<g transform="matrix(1 0 0 1.0600 1451.814 351.817)"><text x="0" y="0" font-family='"Liberation Sans", sans-serif' font-size="28" fill="#000">0</text></g>
<g transform="matrix(1 0 0 1.0600 1163.884 634.617)"><text x="0" y="0" font-family='"Liberation Sans", sans-serif' font-size="28" fill="#000">270</text></g>
<g transform="matrix(0.5787 0 0 0.5614 916.61 64.88)"><text x="0" y="0" font-family='"Liberation Sans", sans-serif' font-size="100" fill="#000">(c)</text></g>
<rect x="1246.4" y="622.5" width="238.4" height="136.1" fill="#fff" stroke="#9a9a9a" stroke-width="1.1"/>
<path d="M1260,665.8H1316.3" stroke="#9a9aff" stroke-width="1.5"/>
<circle cx="1288" cy="665.8" r="14.3" fill="#0000ff"/>
<path d="M1261,734.5H1316.5" stroke="#c2c2c2" stroke-width="5.4" stroke-linecap="round"/>
<g transform="matrix(22.1000 0 0 19.1000 1325.20 656.20)" fill="#000"><path fill-rule="evenodd" d="M0,0.5 A0.385,0.5 0 1 0 0.77,0.5 A0.385,0.5 0 1 0 0,0.5 Z M0.173,0.505 A0.227,0.418 0 1 1 0.627,0.505 A0.227,0.418 0 1 1 0.173,0.505 Z"/><path d="M0.812,0.02 L0.9,0.04 C0.845,0.25 0.785,0.45 0.748,0.63 C0.77,0.8 0.81,0.875 0.868,0.88 C0.925,0.88 0.965,0.8 0.986,0.728 L1.0,0.745 C0.975,0.9 0.925,0.995 0.858,0.995 C0.775,0.995 0.72,0.86 0.685,0.63 C0.69,0.45 0.745,0.25 0.812,0.02 Z"/></g>
<g transform="matrix(0.2597 0 0 0.2528 1355.40 651.25)"><text x="0.000" y="0" font-family='"Liberation Sans", sans-serif' font-size="100" fill="#000">4</text><path transform="matrix(0.04883 0 0 -0.04883 55.615 0)" d="M763,0 L583,0 L583,1102.4 C518,1042.8 400,970.7 223,893.8 L223,1057.2 C330,1105.3 430,1172.6 510,1249.5 C570,1307.1 620,1364.8 646,1409 L763,1409 Z" fill="#000"/><text x="111.230" y="0" font-family='"Liberation Sans", sans-serif' font-size="100" fill="#000">0nm</text></g>
<g transform="matrix(0.2595 0 0 0.2433 1354.68 692.19)"><text x="0" y="0" font-family='"Liberation Sans", sans-serif' font-size="100" fill="#000">CMP, max</text></g>
<g transform="matrix(22.1000 0 0 17.8000 1325.20 725.50)" fill="#000"><path fill-rule="evenodd" d="M0,0.5 A0.385,0.5 0 1 0 0.77,0.5 A0.385,0.5 0 1 0 0,0.5 Z M0.173,0.505 A0.227,0.418 0 1 1 0.627,0.505 A0.227,0.418 0 1 1 0.173,0.505 Z"/><path d="M0.812,0.02 L0.9,0.04 C0.845,0.25 0.785,0.45 0.748,0.63 C0.77,0.8 0.81,0.875 0.868,0.88 C0.925,0.88 0.965,0.8 0.986,0.728 L1.0,0.745 C0.975,0.9 0.925,0.995 0.858,0.995 C0.775,0.995 0.72,0.86 0.685,0.63 C0.69,0.45 0.745,0.25 0.812,0.02 Z"/></g>
<g transform="matrix(0.2538 0 0 0.2639 1354.71 753.42)"><text x="0" y="0" font-family='"Liberation Sans", sans-serif' font-size="100" fill="#000">CME, max</text></g>
<circle cx="1187.7" cy="1120.5" r="79.7" fill="none" stroke="#cbcbcb" stroke-width="1"/>
<circle cx="1187.7" cy="1120.5" r="159.4" fill="none" stroke="#cbcbcb" stroke-width="1"/>
<circle cx="1187.7" cy="1120.5" r="239.1" fill="none" stroke="#cbcbcb" stroke-width="1"/>
<circle cx="1187.7" cy="1120.5" r="259.3" fill="none" stroke="#8c8c8c" stroke-width="1"/>
<path d="M928.4,1120.5H1447 M1187.7,861.2V1379.8" stroke="#ff0000" stroke-width="4.1" stroke-linecap="round" fill="none"/>
<path d="M850.6,861.2V1379.8 M850.6,1120.5h-5 M850.6,1080.65h-3 M850.6,1160.35h-3 M850.6,1040.8h-5 M850.6,1200.2h-5 M850.6,1000.95h-3 M850.6,1240.05h-3 M850.6,961.1h-5 M850.6,1279.9h-5 M850.6,921.25h-3 M850.6,1319.75h-3 M850.6,881.4h-5 M850.6,1359.6h-5" stroke="#8a8a8a" stroke-width="1.1" fill="none"/>
<g transform="matrix(1 0 0 1.0600 826.202 889.399)"><text x="0" y="0" font-family='"Liberation Sans", sans-serif' font-size="28.5" fill="#000">6</text></g>
<g transform="matrix(1 0 0 1.0600 825.785 969.092)"><text x="0" y="0" font-family='"Liberation Sans", sans-serif' font-size="28.5" fill="#000">4</text></g>
<g transform="matrix(1 0 0 1.0600 826.383 1048.947)"><text x="0" y="0" font-family='"Liberation Sans", sans-serif' font-size="28.5" fill="#000">2</text></g>
<g transform="matrix(1 0 0 1.0600 826.063 1128.499)"><text x="0" y="0" font-family='"Liberation Sans", sans-serif' font-size="28.5" fill="#000">0</text></g>
<g transform="matrix(1 0 0 1.0600 826.383 1208.347)"><text x="0" y="0" font-family='"Liberation Sans", sans-serif' font-size="28.5" fill="#000">2</text></g>
<g transform="matrix(1 0 0 1.0600 825.785 1287.892)"><text x="0" y="0" font-family='"Liberation Sans", sans-serif' font-size="28.5" fill="#000">4</text></g>
<g transform="matrix(1 0 0 1.0600 826.202 1367.599)"><text x="0" y="0" font-family='"Liberation Sans", sans-serif' font-size="28.5" fill="#000">6</text></g>
<path d="M1248.69,875.89L1125.48,1370.06" stroke="#000" stroke-width="4.1" stroke-linecap="round" stroke-dasharray="13.3 28.25" fill="none"/>
<path d="M1126.18,873.75L1249.51,1368.41" stroke="#000" stroke-width="4.1" stroke-linecap="round" stroke-dasharray="13.3 28.25" fill="none"/>
<path d="M1432,1120.5 C1432.28,1119.65 1439.58,1122.87 1427.6,1118.8 C1415.62,1114.73 1374.15,1101.02 1360.1,1096.1 C1346.05,1091.18 1350.32,1092.4 1343.3,1089.3 C1336.28,1086.2 1323.9,1081.7 1318,1077.5 C1312.1,1073.3 1310.72,1067.75 1307.9,1064.1 C1305.08,1060.45 1304.2,1057.35 1301.1,1055.6 C1298,1053.85 1294.92,1053.73 1289.3,1053.6 C1283.68,1053.47 1275.45,1054.18 1267.4,1054.8 C1259.35,1055.42 1246.05,1055.75 1241,1057.3 C1235.95,1058.85 1241.13,1060.77 1237.1,1064.1 C1233.07,1067.43 1220.73,1075.23 1216.8,1077.3 C1212.87,1079.37 1213.5,1078.47 1213.5,1076.5 C1213.5,1074.53 1214.98,1070.98 1216.8,1065.5 C1218.62,1060.02 1222.43,1050.63 1224.4,1043.6 C1226.37,1036.57 1228.6,1029.48 1228.6,1023.3 C1228.6,1017.12 1224.67,1014.93 1224.4,1006.5 C1224.13,998.07 1226.02,983.95 1227,972.7 C1227.98,961.45 1229.88,946.43 1230.3,939 C1230.72,931.57 1230.9,928.93 1229.5,928.1 C1228.1,927.27 1224.85,931.62 1221.9,934 C1218.95,936.38 1214.9,938.18 1211.8,942.4 C1208.7,946.62 1205.55,952.83 1203.3,959.3 C1201.05,965.77 1200.12,971.08 1198.3,981.2 C1196.48,991.32 1194.08,1005.95 1192.4,1020 C1190.72,1034.05 1189.75,1057.35 1188.2,1065.5 C1186.65,1073.65 1184.8,1070.87 1183.1,1068.9 C1181.4,1066.93 1181.65,1057.08 1178,1053.7 C1174.35,1050.32 1165.13,1046.92 1161.2,1048.6 C1157.27,1050.28 1158.05,1061.4 1154.4,1063.8 C1150.75,1066.2 1144.77,1061.87 1139.3,1063 C1133.83,1064.13 1124.55,1065.97 1121.6,1070.6 C1118.65,1075.23 1122.47,1086.4 1121.6,1090.8 C1120.73,1095.2 1121.67,1095.33 1116.4,1097 C1111.13,1098.67 1095.73,1100.3 1090,1100.8 C1084.27,1101.3 1091.45,1098.9 1082,1100 C1072.55,1101.1 1047.72,1105.07 1033.3,1107.4 C1018.88,1109.73 1004.95,1111.8 995.5,1114 C986.05,1116.2 980.05,1118.55 976.6,1120.6 C973.15,1122.65 973.22,1123.93 974.8,1126.3 C976.38,1128.67 979.5,1131.67 986.1,1134.8 C992.7,1137.93 1006.38,1142.43 1014.4,1145.1 C1022.42,1147.77 1027.05,1149.47 1034.2,1150.8 C1041.35,1152.13 1051.17,1151.37 1057.3,1153.1 C1063.43,1154.83 1065.57,1159.7 1071,1161.2 C1076.43,1162.7 1083.6,1161.78 1089.9,1162.1 C1096.2,1162.42 1103.13,1162 1108.8,1163.1 C1114.47,1164.2 1119.18,1168.7 1123.9,1168.7 C1128.62,1168.7 1130.17,1166.87 1137.1,1163.1 C1144.03,1159.33 1161.08,1147.37 1165.5,1146.1 C1169.92,1144.83 1166.12,1149.83 1163.6,1155.5 C1161.08,1161.17 1153.23,1173.8 1150.4,1180.1 C1147.57,1186.4 1147.23,1187.95 1146.6,1193.3 C1145.97,1198.65 1147.55,1204.33 1146.6,1212.2 C1145.65,1220.07 1141.85,1231.07 1140.9,1240.5 C1139.95,1249.93 1141.37,1257.78 1140.9,1268.8 C1140.43,1279.82 1138.42,1299.67 1138.1,1306.6 C1137.78,1313.53 1136.63,1314.18 1139,1310.4 C1141.37,1306.62 1148.77,1288.93 1152.3,1283.9 C1155.83,1278.87 1157.6,1283.72 1160.2,1280.2 C1162.8,1276.68 1165.45,1268.78 1167.9,1262.8 C1170.35,1256.82 1172.75,1252.55 1174.9,1244.3 C1177.05,1236.05 1178.88,1226.33 1180.8,1213.3 C1182.72,1200.27 1185.15,1179.48 1186.4,1166.1 C1187.65,1152.72 1187.67,1137.1 1188.3,1133 C1188.93,1128.9 1189.42,1137.25 1190.2,1141.5 C1190.98,1145.75 1191.42,1151.25 1193,1158.5 C1194.58,1165.75 1197.65,1177.6 1199.7,1185 C1201.75,1192.4 1203.58,1200.7 1205.3,1202.9 C1207.02,1205.1 1208.42,1200.08 1210,1198.2 C1211.58,1196.32 1212.75,1192.7 1214.8,1191.6 C1216.85,1190.5 1219.78,1191.28 1222.3,1191.6 C1224.82,1191.92 1226.58,1192.87 1229.9,1193.5 C1233.22,1194.13 1238.5,1194.77 1242.2,1195.4 C1245.9,1196.03 1249.75,1198.57 1252.1,1197.3 C1254.45,1196.03 1254.97,1190.48 1256.3,1187.8 C1257.63,1185.12 1258.83,1183.87 1260.1,1181.2 C1261.37,1178.53 1262.8,1174.32 1263.9,1171.8 C1265,1169.28 1267.33,1168.47 1266.7,1166.1 C1266.07,1163.73 1261.2,1160.28 1260.1,1157.6 C1259,1154.92 1258.68,1152.05 1260.1,1150 C1261.52,1147.95 1264.57,1146.28 1268.6,1145.3 C1272.63,1144.32 1275,1144.58 1284.3,1144.1 C1293.6,1143.62 1314.57,1143.1 1324.4,1142.4 C1334.23,1141.7 1333.13,1141.43 1343.3,1139.9 C1353.47,1138.37 1371.63,1135.87 1385.4,1133.2 C1399.17,1130.53 1418.13,1126.02 1425.9,1123.9 C1433.67,1121.78 1431.72,1121.35 1432,1120.5Z" stroke="#8282ff" stroke-width="1" fill="none" stroke-linejoin="round"/>
<g fill="#0000ff"><circle cx="1233.7" cy="913.7" r="5.7"/><circle cx="1213" cy="939" r="5.7"/><circle cx="1218.5" cy="944.9" r="5.7"/><circle cx="1202.5" cy="957.9" r="5.7"/><circle cx="1226.1" cy="973.3" r="5.7"/><circle cx="1192.4" cy="1019.1" r="5.7"/><circle cx="1222.8" cy="1011.8" r="5.7"/><circle cx="1227.8" cy="1009.3" r="5.7"/><circle cx="1230.8" cy="1017.4" r="5.7"/><circle cx="1224.4" cy="1042.6" r="5.7"/><circle cx="1241" cy="1057.3" r="5.7"/><circle cx="1261.5" cy="1056.8" r="5.7"/><circle cx="1216" cy="1064.9" r="5.7"/><circle cx="1208.9" cy="1084.4" r="5.7"/><circle cx="1159.8" cy="1042.7" r="5.7"/><circle cx="1175.5" cy="1047.8" r="5.7"/><circle cx="1178.9" cy="1050" r="5.7"/><circle cx="1155.3" cy="1065" r="5.7"/><circle cx="1138.9" cy="1063.3" r="5.7"/><circle cx="1121.9" cy="1065" r="5.7"/><circle cx="1119.9" cy="1081.5" r="5.7"/><circle cx="1128.2" cy="1098.4" r="5.7"/><circle cx="1082" cy="1099.8" r="5.7"/><circle cx="1188.2" cy="1072.2" r="5.7"/><circle cx="1184.8" cy="1075.6" r="5.7"/><circle cx="1186.5" cy="1085.7" r="5.7"/><circle cx="1307.4" cy="1048.9" r="5.7"/><circle cx="1309.1" cy="1078.9" r="5.7"/><circle cx="1350.5" cy="1091.9" r="5.7"/><circle cx="1435.2" cy="1120.5" r="5.7"/><circle cx="1248.9" cy="1141.8" r="5.7"/><circle cx="1324.4" cy="1144.6" r="5.7"/><circle cx="1266.8" cy="1166" r="5.7"/><circle cx="1260.2" cy="1181.2" r="5.7"/><circle cx="1212.3" cy="1187.2" r="5.7"/><circle cx="1229.9" cy="1193.3" r="5.7"/><circle cx="1252" cy="1197.2" r="5.7"/><circle cx="1205.4" cy="1218.2" r="5.7"/><circle cx="934.7" cy="1120.6" r="5.7"/><circle cx="1034.2" cy="1150.8" r="5.7"/><circle cx="1057.3" cy="1153.1" r="5.7"/><circle cx="1069.2" cy="1164" r="5.7"/><circle cx="1116.4" cy="1160.2" r="5.7"/><circle cx="1119.6" cy="1178.2" r="5.7"/><circle cx="1180.7" cy="1129.4" r="5.7"/><circle cx="1188.3" cy="1125.5" r="5.7"/><circle cx="1191.1" cy="1148.1" r="5.7"/><circle cx="1187.3" cy="1156.6" r="5.7"/><circle cx="1147.2" cy="1179.1" r="5.7"/><circle cx="1154.1" cy="1184.4" r="5.7"/><circle cx="1143.8" cy="1198" r="5.7"/><circle cx="1149.4" cy="1204.1" r="5.7"/><circle cx="1139.4" cy="1241.4" r="5.7"/><circle cx="1142.8" cy="1245.2" r="5.7"/><circle cx="1143.8" cy="1260.3" r="5.7"/><circle cx="1177.2" cy="1245.6" r="5.7"/><circle cx="1167.9" cy="1262.8" r="5.7"/><circle cx="1160.2" cy="1280.2" r="5.7"/><circle cx="1149.8" cy="1288.7" r="5.7"/><circle cx="1132" cy="1329.2" r="5.7"/></g>
<g transform="matrix(1 0 0 1.0600 1171.918 842.417)"><text x="0" y="0" font-family='"Liberation Sans", sans-serif' font-size="28" fill="#000">90</text></g>
<g transform="matrix(1 0 0 1.0600 1091.027 856.717)"><path transform="matrix(0.01367 0 0 -0.01367 0.000 0)" d="M763,0 L583,0 L583,1102.4 C518,1042.8 400,970.7 223,893.8 L223,1057.2 C330,1105.3 430,1172.6 510,1249.5 C570,1307.1 620,1364.8 646,1409 L763,1409 Z" fill="#000"/><text x="15.572" y="0" font-family='"Liberation Sans", sans-serif' font-size="28" fill="#000">04</text></g>
<g transform="matrix(1 0 0 1.0600 1232.125 852.117)"><text x="0" y="0" font-family='"Liberation Sans", sans-serif' font-size="28" fill="#000">76</text></g>
<g transform="matrix(1 0 0 1.0600 875.864 1129.817)"><path transform="matrix(0.01367 0 0 -0.01367 0.000 0)" d="M763,0 L583,0 L583,1102.4 C518,1042.8 400,970.7 223,893.8 L223,1057.2 C330,1105.3 430,1172.6 510,1249.5 C570,1307.1 620,1364.8 646,1409 L763,1409 Z" fill="#000"/><text x="15.572" y="0" font-family='"Liberation Sans", sans-serif' font-size="28" fill="#000">80</text></g>
<g transform="matrix(1 0 0 1.0600 1453.314 1130.017)"><text x="0" y="0" font-family='"Liberation Sans", sans-serif' font-size="28" fill="#000">0</text></g>
<g transform="matrix(1 0 0 1.0600 1164.284 1412.217)"><text x="0" y="0" font-family='"Liberation Sans", sans-serif' font-size="28" fill="#000">270</text></g>
<g transform="matrix(0.5910 0 0 0.5517 930.14 841.28)"><text x="0" y="0" font-family='"Liberation Sans", sans-serif' font-size="100" fill="#000">(d)</text></g>
<rect x="1270.4" y="1402.4" width="224.8" height="69.1" fill="#fff" stroke="#9a9a9a" stroke-width="1.1"/>
<path d="M1285.1,1439.8H1335.2" stroke="#9a9aff" stroke-width="1.5"/>
<circle cx="1310.4" cy="1439.5" r="12.4" fill="#0000ff"/>
<g transform="matrix(19.6000 0 0 16.4000 1349.00 1431.40)" fill="#000"><path fill-rule="evenodd" d="M0,0.5 A0.385,0.5 0 1 0 0.77,0.5 A0.385,0.5 0 1 0 0,0.5 Z M0.173,0.505 A0.227,0.418 0 1 1 0.627,0.505 A0.227,0.418 0 1 1 0.173,0.505 Z"/><path d="M0.812,0.02 L0.9,0.04 C0.845,0.25 0.785,0.45 0.748,0.63 C0.77,0.8 0.81,0.875 0.868,0.88 C0.925,0.88 0.965,0.8 0.986,0.728 L1.0,0.745 C0.975,0.9 0.925,0.995 0.858,0.995 C0.775,0.995 0.72,0.86 0.685,0.63 C0.69,0.45 0.745,0.25 0.812,0.02 Z"/></g>
<g transform="matrix(0.2304 0 0 0.2217 1376.47 1426.08)"><text x="0.000" y="0" font-family='"Liberation Sans", sans-serif' font-size="100" fill="#000">4</text><path transform="matrix(0.04883 0 0 -0.04883 55.615 0)" d="M763,0 L583,0 L583,1102.4 C518,1042.8 400,970.7 223,893.8 L223,1057.2 C330,1105.3 430,1172.6 510,1249.5 C570,1307.1 620,1364.8 646,1409 L763,1409 Z" fill="#000"/><text x="111.230" y="0" font-family='"Liberation Sans", sans-serif' font-size="100" fill="#000">0nm</text></g>
<g transform="matrix(0.2291 0 0 0.2312 1375.84 1462.24)"><text x="0" y="0" font-family='"Liberation Sans", sans-serif' font-size="100" fill="#000">CMP, max</text></g>
<path d="M711.2,93.8V1480" stroke="#000" stroke-width="6" stroke-linecap="round" stroke-dasharray="24.8 34.16" fill="none"/>
<rect x="564.1" y="776.3" width="169.7" height="67.8" fill="#000"/>
<g transform="matrix(0.5821 0 0 0.5904 568.86 830.42)"><path transform="matrix(0.04883 0 0 -0.04883 0.000 0)" d="M763,0 L583,0 L583,1102.4 C518,1042.8 400,970.7 223,893.8 L223,1057.2 C330,1105.3 430,1172.6 510,1249.5 C570,1307.1 620,1364.8 646,1409 L763,1409 Z" fill="#fff"/><text x="55.615" y="0" font-family='"Liberation Sans", sans-serif' font-size="100" fill="#fff">0 nm</text></g>
<rect x="1.1" y="686.6" width="133.6" height="146.1" fill="#fff" stroke="#9a9a9a" stroke-width="1.1"/>
<path d="M11.1,726.5H67" stroke="#9a9aff" stroke-width="1.5"/>
<rect x="26.9" y="714.1" width="25" height="25" fill="#0000ff"/>
<path d="M11.1,802.4H67" stroke="#ff9a9a" stroke-width="1.5"/>
<rect x="27.8" y="790.7" width="22.9" height="22.6" fill="#fff" stroke="#ff0000" stroke-width="1.9"/>
<g transform="matrix(20.8000 0 0 17.4000 74.70 718.30)" fill="#000"><path fill-rule="evenodd" d="M0,0.5 A0.385,0.5 0 1 0 0.77,0.5 A0.385,0.5 0 1 0 0,0.5 Z M0.173,0.505 A0.227,0.418 0 1 1 0.627,0.505 A0.227,0.418 0 1 1 0.173,0.505 Z"/><path d="M0.812,0.02 L0.9,0.04 C0.845,0.25 0.785,0.45 0.748,0.63 C0.77,0.8 0.81,0.875 0.868,0.88 C0.925,0.88 0.965,0.8 0.986,0.728 L1.0,0.745 C0.975,0.9 0.925,0.995 0.858,0.995 C0.775,0.995 0.72,0.86 0.685,0.63 C0.69,0.45 0.745,0.25 0.812,0.02 Z"/></g>
<g transform="matrix(0.2484 0 0 0.2560 97.74 751.55)"><text x="0" y="0" font-family='"Liberation Sans", sans-serif' font-size="100" fill="#000">ext</text></g>
<path d="M104.4,691.8L104.4,712.4 M98.5,705.4L104.4,712.4L110.3,705.4" stroke="#000" stroke-width="1.1" fill="none" stroke-linejoin="miter"/>
<g transform="matrix(20.8000 0 0 17.1000 74.70 793.40)" fill="#000"><path fill-rule="evenodd" d="M0,0.5 A0.385,0.5 0 1 0 0.77,0.5 A0.385,0.5 0 1 0 0,0.5 Z M0.173,0.505 A0.227,0.418 0 1 1 0.627,0.505 A0.227,0.418 0 1 1 0.173,0.505 Z"/><path d="M0.812,0.02 L0.9,0.04 C0.845,0.25 0.785,0.45 0.748,0.63 C0.77,0.8 0.81,0.875 0.868,0.88 C0.925,0.88 0.965,0.8 0.986,0.728 L1.0,0.745 C0.975,0.9 0.925,0.995 0.858,0.995 C0.775,0.995 0.72,0.86 0.685,0.63 C0.69,0.45 0.745,0.25 0.812,0.02 Z"/></g>
<g transform="matrix(0.2484 0 0 0.2560 97.74 826.55)"><text x="0" y="0" font-family='"Liberation Sans", sans-serif' font-size="100" fill="#000">ext</text></g>
<path d="M104.4,787.5L104.4,767 M110.3,774L104.4,767L98.5,774" stroke="#000" stroke-width="1.1" fill="none" stroke-linejoin="miter"/>
<path d="M135.8,767.8H1495.6" stroke="#000" stroke-width="3.2" stroke-linecap="round" fill="none"/>
<g transform="matrix(0 -29.0000 24.8000 0 36.00 467.20)" fill="#000"><path fill-rule="evenodd" d="M0,0.5 A0.385,0.5 0 1 0 0.77,0.5 A0.385,0.5 0 1 0 0,0.5 Z M0.173,0.505 A0.227,0.418 0 1 1 0.627,0.505 A0.227,0.418 0 1 1 0.173,0.505 Z"/><path d="M0.812,0.02 L0.9,0.04 C0.845,0.25 0.785,0.45 0.748,0.63 C0.77,0.8 0.81,0.875 0.868,0.88 C0.925,0.88 0.965,0.8 0.986,0.728 L1.0,0.745 C0.975,0.9 0.925,0.995 0.858,0.995 C0.775,0.995 0.72,0.86 0.685,0.63 C0.69,0.45 0.745,0.25 0.812,0.02 Z"/></g>
<g transform="matrix(0 -0.3403 0.3611 0 81.95 437.45)"><text x="0" y="0" font-family='"Liberation Sans", sans-serif' font-size="100" fill="#000">ext</text></g>
<g transform="matrix(0 -0.2216 0.3193 0 29.59 417.94)"><text x="0" y="0" font-family='"Liberation Serif", serif' font-size="100" fill="#000">,</text></g>
<g transform="matrix(0 -0.4337 0.4562 0 59.36 392.69)"><text x="0" y="0" font-family='"Liberation Sans", sans-serif' font-size="100" fill="#000">(</text></g>
<g transform="matrix(0 -0.4967 0.4859 0 60.23 380.51)"><path transform="matrix(0.04883 0 0 -0.04883 0.000 0)" d="M763,0 L583,0 L583,1102.4 C518,1042.8 400,970.7 223,893.8 L223,1057.2 C330,1105.3 430,1172.6 510,1249.5 C570,1307.1 620,1364.8 646,1409 L763,1409 Z" fill="#000"/><text x="55.615" y="0" font-family='"Liberation Sans", sans-serif' font-size="100" fill="#000">0</text></g>
<g transform="matrix(0 -0.2458 0.3456 0 36.83 325.59)"><text x="0" y="0" font-family='"Liberation Sans", sans-serif' font-size="100" fill="#000">-</text></g>
<g transform="matrix(0 -0.2847 0.2809 0 34.13 308.14)"><text x="0" y="0" font-family='"Liberation Sans", sans-serif' font-size="100" fill="#000">5</text></g>
<g transform="matrix(0 -0.4707 0.4873 0 59.92 283.11)"><text x="0" y="0" font-family='"Liberation Sans", sans-serif' font-size="100" fill="#000">s.A</text></g>
<g transform="matrix(0 -0.4055 0.2944 0 34.27 216.10)"><text x="0" y="0" font-family='"Liberation Sans", sans-serif' font-size="100" fill="#000">-</text></g>
<g transform="matrix(0 -0.3034 0.2951 0 34.50 206.70)"><path transform="matrix(0.04883 0 0 -0.04883 0.000 0)" d="M763,0 L583,0 L583,1102.4 C518,1042.8 400,970.7 223,893.8 L223,1057.2 C330,1105.3 430,1172.6 510,1249.5 C570,1307.1 620,1364.8 646,1409 L763,1409 Z" fill="#000"/></g>
<g transform="matrix(0 -0.4111 0.4658 0 59.76 187.64)"><text x="0" y="0" font-family='"Liberation Sans", sans-serif' font-size="100" fill="#000">)</text></g>
<path d="M1.3,427.7L29.5,427.7 M20,435.5L29.5,427.7L20,419.9" stroke="#000" stroke-width="1.5" fill="none" stroke-linejoin="miter"/>
<path d="M29.5,401.7L1.3,401.7 M10.8,393.9L1.3,401.7L10.8,409.5" stroke="#000" stroke-width="1.5" fill="none" stroke-linejoin="miter"/>
<g transform="matrix(0 -29.0000 24.8000 0 41.40 1250.40)" fill="#000"><path fill-rule="evenodd" d="M0,0.5 A0.385,0.5 0 1 0 0.77,0.5 A0.385,0.5 0 1 0 0,0.5 Z M0.173,0.505 A0.227,0.418 0 1 1 0.627,0.505 A0.227,0.418 0 1 1 0.173,0.505 Z"/><path d="M0.812,0.02 L0.9,0.04 C0.845,0.25 0.785,0.45 0.748,0.63 C0.77,0.8 0.81,0.875 0.868,0.88 C0.925,0.88 0.965,0.8 0.986,0.728 L1.0,0.745 C0.975,0.9 0.925,0.995 0.858,0.995 C0.775,0.995 0.72,0.86 0.685,0.63 C0.69,0.45 0.745,0.25 0.812,0.02 Z"/></g>
<g transform="matrix(0 -0.3403 0.3611 0 87.35 1220.65)"><text x="0" y="0" font-family='"Liberation Sans", sans-serif' font-size="100" fill="#000">ext</text></g>
<g transform="matrix(0 -0.2216 0.3193 0 34.99 1201.14)"><text x="0" y="0" font-family='"Liberation Serif", serif' font-size="100" fill="#000">,</text></g>
<g transform="matrix(0 -0.4337 0.4562 0 64.76 1175.89)"><text x="0" y="0" font-family='"Liberation Sans", sans-serif' font-size="100" fill="#000">(</text></g>
<g transform="matrix(0 -0.4967 0.4859 0 65.63 1163.71)"><path transform="matrix(0.04883 0 0 -0.04883 0.000 0)" d="M763,0 L583,0 L583,1102.4 C518,1042.8 400,970.7 223,893.8 L223,1057.2 C330,1105.3 430,1172.6 510,1249.5 C570,1307.1 620,1364.8 646,1409 L763,1409 Z" fill="#000"/><text x="55.615" y="0" font-family='"Liberation Sans", sans-serif' font-size="100" fill="#000">0</text></g>
<g transform="matrix(0 -0.2458 0.3456 0 42.23 1108.79)"><text x="0" y="0" font-family='"Liberation Sans", sans-serif' font-size="100" fill="#000">-</text></g>
<g transform="matrix(0 -0.2847 0.2809 0 39.53 1091.34)"><text x="0" y="0" font-family='"Liberation Sans", sans-serif' font-size="100" fill="#000">5</text></g>
<g transform="matrix(0 -0.4707 0.4873 0 65.32 1066.31)"><text x="0" y="0" font-family='"Liberation Sans", sans-serif' font-size="100" fill="#000">s.A</text></g>
<g transform="matrix(0 -0.4055 0.2944 0 39.67 999.30)"><text x="0" y="0" font-family='"Liberation Sans", sans-serif' font-size="100" fill="#000">-</text></g>
<g transform="matrix(0 -0.3034 0.2951 0 39.90 989.90)"><path transform="matrix(0.04883 0 0 -0.04883 0.000 0)" d="M763,0 L583,0 L583,1102.4 C518,1042.8 400,970.7 223,893.8 L223,1057.2 C330,1105.3 430,1172.6 510,1249.5 C570,1307.1 620,1364.8 646,1409 L763,1409 Z" fill="#000"/></g>
<g transform="matrix(0 -0.4111 0.4658 0 65.16 970.84)"><text x="0" y="0" font-family='"Liberation Sans", sans-serif' font-size="100" fill="#000">)</text></g>
<path d="M6.7,1210.9L34.9,1210.9 M25.4,1218.7L34.9,1210.9L25.4,1203.1" stroke="#000" stroke-width="1.5" fill="none" stroke-linejoin="miter"/>
<path d="M34.9,1184.9L6.7,1184.9 M16.2,1177.1L6.7,1184.9L16.2,1192.7" stroke="#000" stroke-width="1.5" fill="none" stroke-linejoin="miter"/>
<g transform="matrix(0 -31.9000 27.5000 0 756.50 724.70)" fill="#000"><path fill-rule="evenodd" d="M0,0.5 A0.385,0.5 0 1 0 0.77,0.5 A0.385,0.5 0 1 0 0,0.5 Z M0.173,0.505 A0.227,0.418 0 1 1 0.627,0.505 A0.227,0.418 0 1 1 0.173,0.505 Z"/><path d="M0.812,0.02 L0.9,0.04 C0.845,0.25 0.785,0.45 0.748,0.63 C0.77,0.8 0.81,0.875 0.868,0.88 C0.925,0.88 0.965,0.8 0.986,0.728 L1.0,0.745 C0.975,0.9 0.925,0.995 0.858,0.995 C0.775,0.995 0.72,0.86 0.685,0.63 C0.69,0.45 0.745,0.25 0.812,0.02 Z"/></g>
<g transform="matrix(0 -0.3699 0.3701 0 749.04 692.15)"><text x="0.000" y="0" font-family='"Liberation Sans", sans-serif' font-size="100" fill="#000">4</text><path transform="matrix(0.04883 0 0 -0.04883 55.615 0)" d="M763,0 L583,0 L583,1102.4 C518,1042.8 400,970.7 223,893.8 L223,1057.2 C330,1105.3 430,1172.6 510,1249.5 C570,1307.1 620,1364.8 646,1409 L763,1409 Z" fill="#000"/><text x="111.230" y="0" font-family='"Liberation Sans", sans-serif' font-size="100" fill="#000">0nm</text></g>
<g transform="matrix(0 -0.2964 0.3062 0 806.08 692.11)"><text x="0" y="0" font-family='"Liberation Sans", sans-serif' font-size="100" fill="#000">CMP, max</text></g>
<g transform="matrix(0 -0.3862 0.3980 0 782.34 553.32)"><text x="0" y="0" font-family='"Liberation Sans", sans-serif' font-size="100" fill="#000" font-weight="bold">(</text></g>
<g transform="matrix(0 -0.3463 0.3079 0 782.00 540.47)"><path transform="matrix(0.04883 0 0 -0.04883 0.000 0)" d="M763,0 L583,0 L583,1102.4 C518,1042.8 400,970.7 223,893.8 L223,1057.2 C330,1105.3 430,1172.6 510,1249.5 C570,1307.1 620,1364.8 646,1409 L763,1409 Z" fill="#000"/><text x="55.615" y="0" font-family='"Liberation Sans", sans-serif' font-size="100" fill="#000">0</text></g>
<g transform="matrix(0 -0.2621 0.2432 0 767.91 504.46)"><text x="0" y="0" font-family='"Liberation Sans", sans-serif' font-size="100" fill="#000">-</text></g>
<g transform="matrix(0 -0.2151 0.2021 0 766.10 493.86)"><text x="0" y="0" font-family='"Liberation Sans", sans-serif' font-size="100" fill="#000">5</text></g>
<g transform="matrix(0 -0.4120 0.4228 0 782.59 477.55)"><text x="0" y="0" font-family='"Liberation Sans", sans-serif' font-size="100" fill="#000">s.A</text></g>
<g transform="matrix(0 -0.3400 0.3328 0 762.94 418.31)"><text x="0" y="0" font-family='"Liberation Sans", sans-serif' font-size="100" fill="#000">-</text></g>
<g transform="matrix(0 -0.2920 0.2515 0 760.50 410.38)"><path transform="matrix(0.04883 0 0 -0.04883 0.000 0)" d="M763,0 L583,0 L583,1102.4 C518,1042.8 400,970.7 223,893.8 L223,1057.2 C330,1105.3 430,1172.6 510,1249.5 C570,1307.1 620,1364.8 646,1409 L763,1409 Z" fill="#000"/></g>
<g transform="matrix(0 -0.4075 0.3980 0 782.34 395.64)"><text x="0" y="0" font-family='"Liberation Sans", sans-serif' font-size="100" fill="#000" font-weight="bold">)</text></g>
<g transform="matrix(0 -0.3425 0.3951 0 782.68 370.52)"><text x="0" y="0" font-family='"Liberation Sans", sans-serif' font-size="100" fill="#000" font-weight="bold">,</text></g>
<g transform="matrix(0 -31.8000 27.6000 0 756.30 357.60)" fill="#000"><path fill-rule="evenodd" d="M0,0.5 A0.385,0.5 0 1 0 0.77,0.5 A0.385,0.5 0 1 0 0,0.5 Z M0.173,0.505 A0.227,0.418 0 1 1 0.627,0.505 A0.227,0.418 0 1 1 0.173,0.505 Z"/><path d="M0.812,0.02 L0.9,0.04 C0.845,0.25 0.785,0.45 0.748,0.63 C0.77,0.8 0.81,0.875 0.868,0.88 C0.925,0.88 0.965,0.8 0.986,0.728 L1.0,0.745 C0.975,0.9 0.925,0.995 0.858,0.995 C0.775,0.995 0.72,0.86 0.685,0.63 C0.69,0.45 0.745,0.25 0.812,0.02 Z"/></g>
<g transform="matrix(0 -0.2981 0.3171 0 806.74 324.41)"><text x="0" y="0" font-family='"Liberation Sans", sans-serif' font-size="100" fill="#000">CME, max</text></g>
<g transform="matrix(0 -0.3685 0.4034 0 782.53 184.64)"><text x="0" y="0" font-family='"Liberation Sans", sans-serif' font-size="100" fill="#000" font-weight="bold">(</text></g>
<g transform="matrix(0 -0.3080 0.3249 0 782.88 171.45)"><path transform="matrix(0.04883 0 0 -0.04883 0.000 0)" d="M763,0 L583,0 L583,1102.4 C518,1042.8 400,970.7 223,893.8 L223,1057.2 C330,1105.3 430,1172.6 510,1249.5 C570,1307.1 620,1364.8 646,1409 L763,1409 Z" fill="#000"/><text x="55.615" y="0" font-family='"Liberation Sans", sans-serif' font-size="100" fill="#000">0</text></g>
<g transform="matrix(0 -0.2376 0.2176 0 766.83 137.86)"><text x="0" y="0" font-family='"Liberation Sans", sans-serif' font-size="100" fill="#000">-</text></g>
<g transform="matrix(0 -0.1936 0.2020 0 766.00 125.99)"><text x="0" y="0" font-family='"Liberation Sans", sans-serif' font-size="100" fill="#000">7</text></g>
<g transform="matrix(0 -0.4100 0.3979 0 782.41 109.04)"><text x="0" y="0" font-family='"Liberation Sans", sans-serif' font-size="100" fill="#000">s.m</text></g>
<g transform="matrix(0 -0.2785 0.3200 0 762.65 43.64)"><text x="0" y="0" font-family='"Liberation Sans", sans-serif' font-size="100" fill="#000">-</text></g>
<g transform="matrix(0 -0.2579 0.2587 0 760.60 35.51)"><path transform="matrix(0.04883 0 0 -0.04883 0.000 0)" d="M763,0 L583,0 L583,1102.4 C518,1042.8 400,970.7 223,893.8 L223,1057.2 C330,1105.3 430,1172.6 510,1249.5 C570,1307.1 620,1364.8 646,1409 L763,1409 Z" fill="#000"/></g>
<g transform="matrix(0 -0.3437 0.4034 0 782.53 19.43)"><text x="0" y="0" font-family='"Liberation Sans", sans-serif' font-size="100" fill="#000" font-weight="bold">)</text></g>
<g transform="matrix(0 -31.9000 27.5000 0 754.00 1294.30)" fill="#000"><path fill-rule="evenodd" d="M0,0.5 A0.385,0.5 0 1 0 0.77,0.5 A0.385,0.5 0 1 0 0,0.5 Z M0.173,0.505 A0.227,0.418 0 1 1 0.627,0.505 A0.227,0.418 0 1 1 0.173,0.505 Z"/><path d="M0.812,0.02 L0.9,0.04 C0.845,0.25 0.785,0.45 0.748,0.63 C0.77,0.8 0.81,0.875 0.868,0.88 C0.925,0.88 0.965,0.8 0.986,0.728 L1.0,0.745 C0.975,0.9 0.925,0.995 0.858,0.995 C0.775,0.995 0.72,0.86 0.685,0.63 C0.69,0.45 0.745,0.25 0.812,0.02 Z"/></g>
<g transform="matrix(0 -0.3699 0.3701 0 746.54 1261.75)"><text x="0.000" y="0" font-family='"Liberation Sans", sans-serif' font-size="100" fill="#000">4</text><path transform="matrix(0.04883 0 0 -0.04883 55.615 0)" d="M763,0 L583,0 L583,1102.4 C518,1042.8 400,970.7 223,893.8 L223,1057.2 C330,1105.3 430,1172.6 510,1249.5 C570,1307.1 620,1364.8 646,1409 L763,1409 Z" fill="#000"/><text x="111.230" y="0" font-family='"Liberation Sans", sans-serif' font-size="100" fill="#000">0nm</text></g>
<g transform="matrix(0 -0.2964 0.3062 0 803.58 1261.71)"><text x="0" y="0" font-family='"Liberation Sans", sans-serif' font-size="100" fill="#000">CMP, max</text></g>
<g transform="matrix(0 -0.3862 0.3980 0 779.84 1122.92)"><text x="0" y="0" font-family='"Liberation Sans", sans-serif' font-size="100" fill="#000" font-weight="bold">(</text></g>
<g transform="matrix(0 -0.3463 0.3079 0 779.50 1110.07)"><path transform="matrix(0.04883 0 0 -0.04883 0.000 0)" d="M763,0 L583,0 L583,1102.4 C518,1042.8 400,970.7 223,893.8 L223,1057.2 C330,1105.3 430,1172.6 510,1249.5 C570,1307.1 620,1364.8 646,1409 L763,1409 Z" fill="#000"/><text x="55.615" y="0" font-family='"Liberation Sans", sans-serif' font-size="100" fill="#000">0</text></g>
<g transform="matrix(0 -0.2621 0.2432 0 765.41 1074.06)"><text x="0" y="0" font-family='"Liberation Sans", sans-serif' font-size="100" fill="#000">-</text></g>
<g transform="matrix(0 -0.2151 0.2021 0 763.60 1063.46)"><text x="0" y="0" font-family='"Liberation Sans", sans-serif' font-size="100" fill="#000">5</text></g>
<g transform="matrix(0 -0.4120 0.4228 0 780.09 1047.15)"><text x="0" y="0" font-family='"Liberation Sans", sans-serif' font-size="100" fill="#000">s.A</text></g>
<g transform="matrix(0 -0.3400 0.3328 0 760.44 987.91)"><text x="0" y="0" font-family='"Liberation Sans", sans-serif' font-size="100" fill="#000">-</text></g>
<g transform="matrix(0 -0.2920 0.2515 0 758.00 979.98)"><path transform="matrix(0.04883 0 0 -0.04883 0.000 0)" d="M763,0 L583,0 L583,1102.4 C518,1042.8 400,970.7 223,893.8 L223,1057.2 C330,1105.3 430,1172.6 510,1249.5 C570,1307.1 620,1364.8 646,1409 L763,1409 Z" fill="#000"/></g>
<g transform="matrix(0 -0.4075 0.3980 0 779.84 965.24)"><text x="0" y="0" font-family='"Liberation Sans", sans-serif' font-size="100" fill="#000" font-weight="bold">)</text></g>
</svg></body></html>
